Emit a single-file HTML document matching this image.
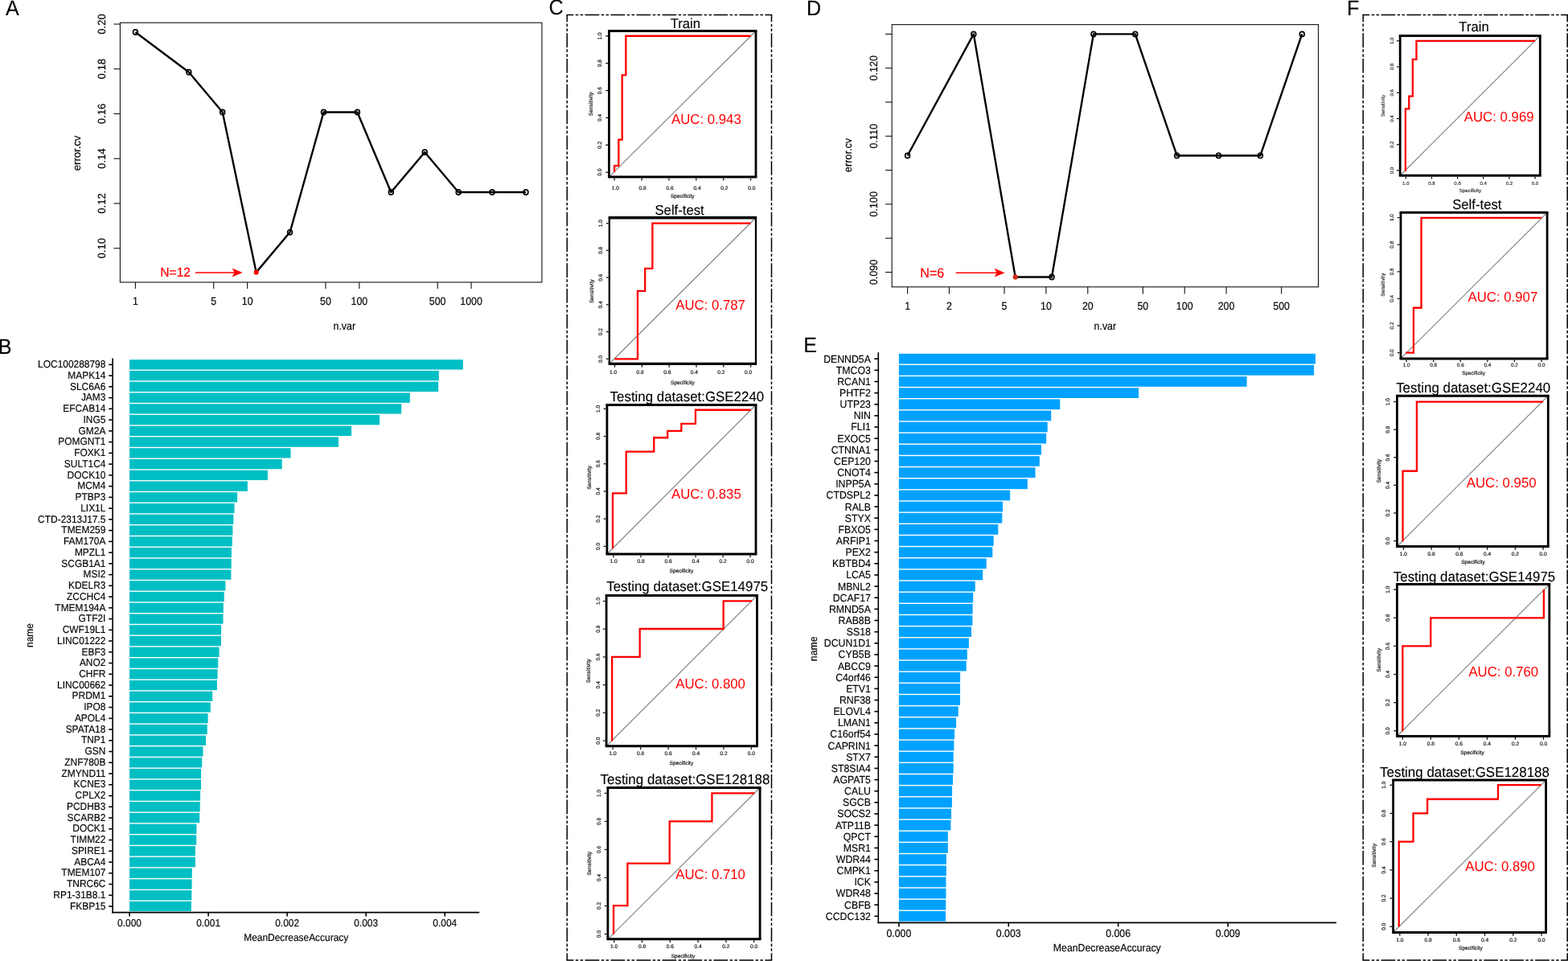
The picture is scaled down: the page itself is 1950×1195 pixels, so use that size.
<!DOCTYPE html>
<html lang="en">
<head>
<meta charset="utf-8">
<title>Figure</title>
<style>
html,body{margin:0;padding:0;background:#fff;}
body{width:1950px;height:1195px;overflow:hidden;}
svg{display:block;}
</style>
</head>
<body>
<svg width="1950" height="1195" viewBox="0 0 1950 1195" font-family='"Liberation Sans", Arial, Helvetica, sans-serif' text-rendering="geometricPrecision">
<rect x="0" y="0" width="1950" height="1195" fill="#fff"/>
<g id="panelA">
<rect x="149.40" y="28.25" width="524.50" height="322.75" fill="none" stroke="#111" stroke-width="1.1"/>
<line x1="141.40" y1="308.75" x2="149.40" y2="308.75" stroke="#111" stroke-width="1.1"/>
<text transform="translate(131.00 308.75) scale(1.0800 1.0560) rotate(-90)" font-size="12.4" text-anchor="middle" fill="#000" stroke="#000" stroke-width="0.15">0.10</text>
<line x1="141.40" y1="253.00" x2="149.40" y2="253.00" stroke="#111" stroke-width="1.1"/>
<text transform="translate(131.00 253.00) scale(1.0800 1.0560) rotate(-90)" font-size="12.4" text-anchor="middle" fill="#000" stroke="#000" stroke-width="0.15">0.12</text>
<line x1="141.40" y1="197.25" x2="149.40" y2="197.25" stroke="#111" stroke-width="1.1"/>
<text transform="translate(131.00 197.25) scale(1.0800 1.0560) rotate(-90)" font-size="12.4" text-anchor="middle" fill="#000" stroke="#000" stroke-width="0.15">0.14</text>
<line x1="141.40" y1="141.50" x2="149.40" y2="141.50" stroke="#111" stroke-width="1.1"/>
<text transform="translate(131.00 141.50) scale(1.0800 1.0560) rotate(-90)" font-size="12.4" text-anchor="middle" fill="#000" stroke="#000" stroke-width="0.15">0.16</text>
<line x1="141.40" y1="85.75" x2="149.40" y2="85.75" stroke="#111" stroke-width="1.1"/>
<text transform="translate(131.00 85.75) scale(1.0800 1.0560) rotate(-90)" font-size="12.4" text-anchor="middle" fill="#000" stroke="#000" stroke-width="0.15">0.18</text>
<line x1="141.40" y1="30.00" x2="149.40" y2="30.00" stroke="#111" stroke-width="1.1"/>
<text transform="translate(131.00 30.00) scale(1.0800 1.0560) rotate(-90)" font-size="12.4" text-anchor="middle" fill="#000" stroke="#000" stroke-width="0.15">0.20</text>
<line x1="168.40" y1="351.00" x2="168.40" y2="359.10" stroke="#111" stroke-width="1.1"/>
<text transform="translate(168.40 378.80) scale(1.0000 1.1000)" font-size="12.4" text-anchor="middle" fill="#000" stroke="#000" stroke-width="0.15">1</text>
<line x1="265.72" y1="351.00" x2="265.72" y2="359.10" stroke="#111" stroke-width="1.1"/>
<text transform="translate(265.72 378.80) scale(1.0000 1.1000)" font-size="12.4" text-anchor="middle" fill="#000" stroke="#000" stroke-width="0.15">5</text>
<line x1="307.63" y1="351.00" x2="307.63" y2="359.10" stroke="#111" stroke-width="1.1"/>
<text transform="translate(307.63 378.80) scale(1.0000 1.1000)" font-size="12.4" text-anchor="middle" fill="#000" stroke="#000" stroke-width="0.15">10</text>
<line x1="404.95" y1="351.00" x2="404.95" y2="359.10" stroke="#111" stroke-width="1.1"/>
<text transform="translate(404.95 378.80) scale(1.0000 1.1000)" font-size="12.4" text-anchor="middle" fill="#000" stroke="#000" stroke-width="0.15">50</text>
<line x1="446.86" y1="351.00" x2="446.86" y2="359.10" stroke="#111" stroke-width="1.1"/>
<text transform="translate(446.86 378.80) scale(1.0000 1.1000)" font-size="12.4" text-anchor="middle" fill="#000" stroke="#000" stroke-width="0.15">100</text>
<line x1="544.18" y1="351.00" x2="544.18" y2="359.10" stroke="#111" stroke-width="1.1"/>
<text transform="translate(544.18 378.80) scale(1.0000 1.1000)" font-size="12.4" text-anchor="middle" fill="#000" stroke="#000" stroke-width="0.15">500</text>
<line x1="586.09" y1="351.00" x2="586.09" y2="359.10" stroke="#111" stroke-width="1.1"/>
<text transform="translate(586.09 378.80) scale(1.0000 1.1000)" font-size="12.4" text-anchor="middle" fill="#000" stroke="#000" stroke-width="0.15">1000</text>
<text transform="translate(428.30 410.30) scale(1.0000 1.1000)" font-size="12.4" text-anchor="middle" fill="#000" stroke="#000" stroke-width="0.15">n.var</text>
<text transform="translate(100.00 190.40) scale(1.0800 1.0560) rotate(-90)" font-size="12.4" text-anchor="middle" fill="#000" stroke="#000" stroke-width="0.15">error.cv</text>
<polyline fill="none" stroke="#000" stroke-width="2.4" stroke-linejoin="round" points="168.40,39.96 234.83,89.73 276.74,139.51 318.65,338.62 360.57,288.84 402.48,139.51 444.39,139.51 486.30,239.06 528.22,189.29 570.13,239.06 612.04,239.06 653.95,239.06"/>
<ellipse cx="168.40" cy="39.96" rx="2.9" ry="3.1" fill="none" stroke="#000" stroke-width="1.7"/>
<ellipse cx="234.83" cy="89.73" rx="2.9" ry="3.1" fill="none" stroke="#000" stroke-width="1.7"/>
<ellipse cx="276.74" cy="139.51" rx="2.9" ry="3.1" fill="none" stroke="#000" stroke-width="1.7"/>
<ellipse cx="318.65" cy="338.62" rx="3.0" ry="3.2" fill="#ff0000"/>
<ellipse cx="360.57" cy="288.84" rx="2.9" ry="3.1" fill="none" stroke="#000" stroke-width="1.7"/>
<ellipse cx="402.48" cy="139.51" rx="2.9" ry="3.1" fill="none" stroke="#000" stroke-width="1.7"/>
<ellipse cx="444.39" cy="139.51" rx="2.9" ry="3.1" fill="none" stroke="#000" stroke-width="1.7"/>
<ellipse cx="486.30" cy="239.06" rx="2.9" ry="3.1" fill="none" stroke="#000" stroke-width="1.7"/>
<ellipse cx="528.22" cy="189.29" rx="2.9" ry="3.1" fill="none" stroke="#000" stroke-width="1.7"/>
<ellipse cx="570.13" cy="239.06" rx="2.9" ry="3.1" fill="none" stroke="#000" stroke-width="1.7"/>
<ellipse cx="612.04" cy="239.06" rx="2.9" ry="3.1" fill="none" stroke="#000" stroke-width="1.7"/>
<ellipse cx="653.95" cy="239.06" rx="2.9" ry="3.1" fill="none" stroke="#000" stroke-width="1.7"/>
<text transform="translate(199.30 344.20) scale(1.0000 1.0300)" font-size="15.6" text-anchor="start" fill="#ff0000" stroke="#ff0000" stroke-width="0.2">N=12</text>
<line x1="243.00" y1="339.00" x2="295.60" y2="339.00" stroke="#ff0000" stroke-width="1.5"/>
<path d="M301.60 339.00 L288.70 333.60 L291.60 339.00 L288.70 344.40 Z" fill="#ff0000"/>
</g>
<g id="panelB">
<rect x="161.05" y="447.21" width="414.75" height="12.37" fill="#00bfc4"/>
<line x1="135.20" y1="453.40" x2="140.10" y2="453.40" stroke="#000" stroke-width="1.6"/>
<text transform="translate(131.40 457.08) scale(1.0000 1.0700)" font-size="11.95" text-anchor="end" fill="#000" stroke="#000" stroke-width="0.15">LOC100288798</text>
<rect x="161.05" y="460.96" width="384.75" height="12.37" fill="#00bfc4"/>
<line x1="135.20" y1="467.15" x2="140.10" y2="467.15" stroke="#000" stroke-width="1.6"/>
<text transform="translate(131.40 470.82) scale(1.0000 1.0700)" font-size="11.95" text-anchor="end" fill="#000" stroke="#000" stroke-width="0.15">MAPK14</text>
<rect x="161.05" y="474.71" width="384.05" height="12.37" fill="#00bfc4"/>
<line x1="135.20" y1="480.89" x2="140.10" y2="480.89" stroke="#000" stroke-width="1.6"/>
<text transform="translate(131.40 484.57) scale(1.0000 1.0700)" font-size="11.95" text-anchor="end" fill="#000" stroke="#000" stroke-width="0.15">SLC6A6</text>
<rect x="161.05" y="488.45" width="348.75" height="12.37" fill="#00bfc4"/>
<line x1="135.20" y1="494.64" x2="140.10" y2="494.64" stroke="#000" stroke-width="1.6"/>
<text transform="translate(131.40 498.32) scale(1.0000 1.0700)" font-size="11.95" text-anchor="end" fill="#000" stroke="#000" stroke-width="0.15">JAM3</text>
<rect x="161.05" y="502.20" width="338.15" height="12.37" fill="#00bfc4"/>
<line x1="135.20" y1="508.39" x2="140.10" y2="508.39" stroke="#000" stroke-width="1.6"/>
<text transform="translate(131.40 512.07) scale(1.0000 1.0700)" font-size="11.95" text-anchor="end" fill="#000" stroke="#000" stroke-width="0.15">EFCAB14</text>
<rect x="161.05" y="515.95" width="310.95" height="12.37" fill="#00bfc4"/>
<line x1="135.20" y1="522.13" x2="140.10" y2="522.13" stroke="#000" stroke-width="1.6"/>
<text transform="translate(131.40 525.81) scale(1.0000 1.0700)" font-size="11.95" text-anchor="end" fill="#000" stroke="#000" stroke-width="0.15">ING5</text>
<rect x="161.05" y="529.70" width="276.05" height="12.37" fill="#00bfc4"/>
<line x1="135.20" y1="535.88" x2="140.10" y2="535.88" stroke="#000" stroke-width="1.6"/>
<text transform="translate(131.40 539.56) scale(1.0000 1.0700)" font-size="11.95" text-anchor="end" fill="#000" stroke="#000" stroke-width="0.15">GM2A</text>
<rect x="161.05" y="543.44" width="259.85" height="12.37" fill="#00bfc4"/>
<line x1="135.20" y1="549.63" x2="140.10" y2="549.63" stroke="#000" stroke-width="1.6"/>
<text transform="translate(131.40 553.31) scale(1.0000 1.0700)" font-size="11.95" text-anchor="end" fill="#000" stroke="#000" stroke-width="0.15">POMGNT1</text>
<rect x="161.05" y="557.19" width="200.45" height="12.37" fill="#00bfc4"/>
<line x1="135.20" y1="563.38" x2="140.10" y2="563.38" stroke="#000" stroke-width="1.6"/>
<text transform="translate(131.40 567.05) scale(1.0000 1.0700)" font-size="11.95" text-anchor="end" fill="#000" stroke="#000" stroke-width="0.15">FOXK1</text>
<rect x="161.05" y="570.94" width="189.65" height="12.37" fill="#00bfc4"/>
<line x1="135.20" y1="577.12" x2="140.10" y2="577.12" stroke="#000" stroke-width="1.6"/>
<text transform="translate(131.40 580.80) scale(1.0000 1.0700)" font-size="11.95" text-anchor="end" fill="#000" stroke="#000" stroke-width="0.15">SULT1C4</text>
<rect x="161.05" y="584.68" width="171.85" height="12.37" fill="#00bfc4"/>
<line x1="135.20" y1="590.87" x2="140.10" y2="590.87" stroke="#000" stroke-width="1.6"/>
<text transform="translate(131.40 594.55) scale(1.0000 1.0700)" font-size="11.95" text-anchor="end" fill="#000" stroke="#000" stroke-width="0.15">DOCK10</text>
<rect x="161.05" y="598.43" width="146.85" height="12.37" fill="#00bfc4"/>
<line x1="135.20" y1="604.62" x2="140.10" y2="604.62" stroke="#000" stroke-width="1.6"/>
<text transform="translate(131.40 608.29) scale(1.0000 1.0700)" font-size="11.95" text-anchor="end" fill="#000" stroke="#000" stroke-width="0.15">MCM4</text>
<rect x="161.05" y="612.18" width="134.05" height="12.37" fill="#00bfc4"/>
<line x1="135.20" y1="618.36" x2="140.10" y2="618.36" stroke="#000" stroke-width="1.6"/>
<text transform="translate(131.40 622.04) scale(1.0000 1.0700)" font-size="11.95" text-anchor="end" fill="#000" stroke="#000" stroke-width="0.15">PTBP3</text>
<rect x="161.05" y="625.92" width="130.45" height="12.37" fill="#00bfc4"/>
<line x1="135.20" y1="632.11" x2="140.10" y2="632.11" stroke="#000" stroke-width="1.6"/>
<text transform="translate(131.40 635.79) scale(1.0000 1.0700)" font-size="11.95" text-anchor="end" fill="#000" stroke="#000" stroke-width="0.15">LIX1L</text>
<rect x="161.05" y="639.67" width="129.25" height="12.37" fill="#00bfc4"/>
<line x1="135.20" y1="645.86" x2="140.10" y2="645.86" stroke="#000" stroke-width="1.6"/>
<text transform="translate(131.40 649.53) scale(1.0000 1.0700)" font-size="11.95" text-anchor="end" fill="#000" stroke="#000" stroke-width="0.15">CTD-2313J17.5</text>
<rect x="161.05" y="653.42" width="128.35" height="12.37" fill="#00bfc4"/>
<line x1="135.20" y1="659.60" x2="140.10" y2="659.60" stroke="#000" stroke-width="1.6"/>
<text transform="translate(131.40 663.28) scale(1.0000 1.0700)" font-size="11.95" text-anchor="end" fill="#000" stroke="#000" stroke-width="0.15">TMEM259</text>
<rect x="161.05" y="667.16" width="127.75" height="12.37" fill="#00bfc4"/>
<line x1="135.20" y1="673.35" x2="140.10" y2="673.35" stroke="#000" stroke-width="1.6"/>
<text transform="translate(131.40 677.03) scale(1.0000 1.0700)" font-size="11.95" text-anchor="end" fill="#000" stroke="#000" stroke-width="0.15">FAM170A</text>
<rect x="161.05" y="680.91" width="126.85" height="12.37" fill="#00bfc4"/>
<line x1="135.20" y1="687.10" x2="140.10" y2="687.10" stroke="#000" stroke-width="1.6"/>
<text transform="translate(131.40 690.78) scale(1.0000 1.0700)" font-size="11.95" text-anchor="end" fill="#000" stroke="#000" stroke-width="0.15">MPZL1</text>
<rect x="161.05" y="694.66" width="126.65" height="12.37" fill="#00bfc4"/>
<line x1="135.20" y1="700.84" x2="140.10" y2="700.84" stroke="#000" stroke-width="1.6"/>
<text transform="translate(131.40 704.52) scale(1.0000 1.0700)" font-size="11.95" text-anchor="end" fill="#000" stroke="#000" stroke-width="0.15">SCGB1A1</text>
<rect x="161.05" y="708.41" width="126.35" height="12.37" fill="#00bfc4"/>
<line x1="135.20" y1="714.59" x2="140.10" y2="714.59" stroke="#000" stroke-width="1.6"/>
<text transform="translate(131.40 718.27) scale(1.0000 1.0700)" font-size="11.95" text-anchor="end" fill="#000" stroke="#000" stroke-width="0.15">MSI2</text>
<rect x="161.05" y="722.15" width="119.35" height="12.37" fill="#00bfc4"/>
<line x1="135.20" y1="728.34" x2="140.10" y2="728.34" stroke="#000" stroke-width="1.6"/>
<text transform="translate(131.40 732.02) scale(1.0000 1.0700)" font-size="11.95" text-anchor="end" fill="#000" stroke="#000" stroke-width="0.15">KDELR3</text>
<rect x="161.05" y="735.90" width="117.65" height="12.37" fill="#00bfc4"/>
<line x1="135.20" y1="742.09" x2="140.10" y2="742.09" stroke="#000" stroke-width="1.6"/>
<text transform="translate(131.40 745.76) scale(1.0000 1.0700)" font-size="11.95" text-anchor="end" fill="#000" stroke="#000" stroke-width="0.15">ZCCHC4</text>
<rect x="161.05" y="749.65" width="116.75" height="12.37" fill="#00bfc4"/>
<line x1="135.20" y1="755.83" x2="140.10" y2="755.83" stroke="#000" stroke-width="1.6"/>
<text transform="translate(131.40 759.51) scale(1.0000 1.0700)" font-size="11.95" text-anchor="end" fill="#000" stroke="#000" stroke-width="0.15">TMEM194A</text>
<rect x="161.05" y="763.39" width="116.45" height="12.37" fill="#00bfc4"/>
<line x1="135.20" y1="769.58" x2="140.10" y2="769.58" stroke="#000" stroke-width="1.6"/>
<text transform="translate(131.40 773.26) scale(1.0000 1.0700)" font-size="11.95" text-anchor="end" fill="#000" stroke="#000" stroke-width="0.15">GTF2I</text>
<rect x="161.05" y="777.14" width="114.05" height="12.37" fill="#00bfc4"/>
<line x1="135.20" y1="783.33" x2="140.10" y2="783.33" stroke="#000" stroke-width="1.6"/>
<text transform="translate(131.40 787.00) scale(1.0000 1.0700)" font-size="11.95" text-anchor="end" fill="#000" stroke="#000" stroke-width="0.15">CWF19L1</text>
<rect x="161.05" y="790.89" width="113.95" height="12.37" fill="#00bfc4"/>
<line x1="135.20" y1="797.07" x2="140.10" y2="797.07" stroke="#000" stroke-width="1.6"/>
<text transform="translate(131.40 800.75) scale(1.0000 1.0700)" font-size="11.95" text-anchor="end" fill="#000" stroke="#000" stroke-width="0.15">LINC01222</text>
<rect x="161.05" y="804.63" width="111.55" height="12.37" fill="#00bfc4"/>
<line x1="135.20" y1="810.82" x2="140.10" y2="810.82" stroke="#000" stroke-width="1.6"/>
<text transform="translate(131.40 814.50) scale(1.0000 1.0700)" font-size="11.95" text-anchor="end" fill="#000" stroke="#000" stroke-width="0.15">EBF3</text>
<rect x="161.05" y="818.38" width="110.15" height="12.37" fill="#00bfc4"/>
<line x1="135.20" y1="824.57" x2="140.10" y2="824.57" stroke="#000" stroke-width="1.6"/>
<text transform="translate(131.40 828.24) scale(1.0000 1.0700)" font-size="11.95" text-anchor="end" fill="#000" stroke="#000" stroke-width="0.15">ANO2</text>
<rect x="161.05" y="832.13" width="109.45" height="12.37" fill="#00bfc4"/>
<line x1="135.20" y1="838.31" x2="140.10" y2="838.31" stroke="#000" stroke-width="1.6"/>
<text transform="translate(131.40 841.99) scale(1.0000 1.0700)" font-size="11.95" text-anchor="end" fill="#000" stroke="#000" stroke-width="0.15">CHFR</text>
<rect x="161.05" y="845.88" width="108.85" height="12.37" fill="#00bfc4"/>
<line x1="135.20" y1="852.06" x2="140.10" y2="852.06" stroke="#000" stroke-width="1.6"/>
<text transform="translate(131.40 855.74) scale(1.0000 1.0700)" font-size="11.95" text-anchor="end" fill="#000" stroke="#000" stroke-width="0.15">LINC00662</text>
<rect x="161.05" y="859.62" width="103.15" height="12.37" fill="#00bfc4"/>
<line x1="135.20" y1="865.81" x2="140.10" y2="865.81" stroke="#000" stroke-width="1.6"/>
<text transform="translate(131.40 869.49) scale(1.0000 1.0700)" font-size="11.95" text-anchor="end" fill="#000" stroke="#000" stroke-width="0.15">PRDM1</text>
<rect x="161.05" y="873.37" width="100.75" height="12.37" fill="#00bfc4"/>
<line x1="135.20" y1="879.56" x2="140.10" y2="879.56" stroke="#000" stroke-width="1.6"/>
<text transform="translate(131.40 883.23) scale(1.0000 1.0700)" font-size="11.95" text-anchor="end" fill="#000" stroke="#000" stroke-width="0.15">IPO8</text>
<rect x="161.05" y="887.12" width="97.55" height="12.37" fill="#00bfc4"/>
<line x1="135.20" y1="893.30" x2="140.10" y2="893.30" stroke="#000" stroke-width="1.6"/>
<text transform="translate(131.40 896.98) scale(1.0000 1.0700)" font-size="11.95" text-anchor="end" fill="#000" stroke="#000" stroke-width="0.15">APOL4</text>
<rect x="161.05" y="900.86" width="96.65" height="12.37" fill="#00bfc4"/>
<line x1="135.20" y1="907.05" x2="140.10" y2="907.05" stroke="#000" stroke-width="1.6"/>
<text transform="translate(131.40 910.73) scale(1.0000 1.0700)" font-size="11.95" text-anchor="end" fill="#000" stroke="#000" stroke-width="0.15">SPATA18</text>
<rect x="161.05" y="914.61" width="95.05" height="12.37" fill="#00bfc4"/>
<line x1="135.20" y1="920.80" x2="140.10" y2="920.80" stroke="#000" stroke-width="1.6"/>
<text transform="translate(131.40 924.47) scale(1.0000 1.0700)" font-size="11.95" text-anchor="end" fill="#000" stroke="#000" stroke-width="0.15">TNP1</text>
<rect x="161.05" y="928.36" width="91.45" height="12.37" fill="#00bfc4"/>
<line x1="135.20" y1="934.54" x2="140.10" y2="934.54" stroke="#000" stroke-width="1.6"/>
<text transform="translate(131.40 938.22) scale(1.0000 1.0700)" font-size="11.95" text-anchor="end" fill="#000" stroke="#000" stroke-width="0.15">GSN</text>
<rect x="161.05" y="942.10" width="90.15" height="12.37" fill="#00bfc4"/>
<line x1="135.20" y1="948.29" x2="140.10" y2="948.29" stroke="#000" stroke-width="1.6"/>
<text transform="translate(131.40 951.97) scale(1.0000 1.0700)" font-size="11.95" text-anchor="end" fill="#000" stroke="#000" stroke-width="0.15">ZNF780B</text>
<rect x="161.05" y="955.85" width="89.05" height="12.37" fill="#00bfc4"/>
<line x1="135.20" y1="962.04" x2="140.10" y2="962.04" stroke="#000" stroke-width="1.6"/>
<text transform="translate(131.40 965.71) scale(1.0000 1.0700)" font-size="11.95" text-anchor="end" fill="#000" stroke="#000" stroke-width="0.15">ZMYND11</text>
<rect x="161.05" y="969.60" width="88.95" height="12.37" fill="#00bfc4"/>
<line x1="135.20" y1="975.78" x2="140.10" y2="975.78" stroke="#000" stroke-width="1.6"/>
<text transform="translate(131.40 979.46) scale(1.0000 1.0700)" font-size="11.95" text-anchor="end" fill="#000" stroke="#000" stroke-width="0.15">KCNE3</text>
<rect x="161.05" y="983.34" width="88.05" height="12.37" fill="#00bfc4"/>
<line x1="135.20" y1="989.53" x2="140.10" y2="989.53" stroke="#000" stroke-width="1.6"/>
<text transform="translate(131.40 993.21) scale(1.0000 1.0700)" font-size="11.95" text-anchor="end" fill="#000" stroke="#000" stroke-width="0.15">CPLX2</text>
<rect x="161.05" y="997.09" width="87.65" height="12.37" fill="#00bfc4"/>
<line x1="135.20" y1="1003.28" x2="140.10" y2="1003.28" stroke="#000" stroke-width="1.6"/>
<text transform="translate(131.40 1006.96) scale(1.0000 1.0700)" font-size="11.95" text-anchor="end" fill="#000" stroke="#000" stroke-width="0.15">PCDHB3</text>
<rect x="161.05" y="1010.84" width="87.15" height="12.37" fill="#00bfc4"/>
<line x1="135.20" y1="1017.02" x2="140.10" y2="1017.02" stroke="#000" stroke-width="1.6"/>
<text transform="translate(131.40 1020.70) scale(1.0000 1.0700)" font-size="11.95" text-anchor="end" fill="#000" stroke="#000" stroke-width="0.15">SCARB2</text>
<rect x="161.05" y="1024.59" width="83.35" height="12.37" fill="#00bfc4"/>
<line x1="135.20" y1="1030.77" x2="140.10" y2="1030.77" stroke="#000" stroke-width="1.6"/>
<text transform="translate(131.40 1034.45) scale(1.0000 1.0700)" font-size="11.95" text-anchor="end" fill="#000" stroke="#000" stroke-width="0.15">DOCK1</text>
<rect x="161.05" y="1038.33" width="83.15" height="12.37" fill="#00bfc4"/>
<line x1="135.20" y1="1044.52" x2="140.10" y2="1044.52" stroke="#000" stroke-width="1.6"/>
<text transform="translate(131.40 1048.20) scale(1.0000 1.0700)" font-size="11.95" text-anchor="end" fill="#000" stroke="#000" stroke-width="0.15">TIMM22</text>
<rect x="161.05" y="1052.08" width="81.85" height="12.37" fill="#00bfc4"/>
<line x1="135.20" y1="1058.27" x2="140.10" y2="1058.27" stroke="#000" stroke-width="1.6"/>
<text transform="translate(131.40 1061.94) scale(1.0000 1.0700)" font-size="11.95" text-anchor="end" fill="#000" stroke="#000" stroke-width="0.15">SPIRE1</text>
<rect x="161.05" y="1065.83" width="81.85" height="12.37" fill="#00bfc4"/>
<line x1="135.20" y1="1072.01" x2="140.10" y2="1072.01" stroke="#000" stroke-width="1.6"/>
<text transform="translate(131.40 1075.69) scale(1.0000 1.0700)" font-size="11.95" text-anchor="end" fill="#000" stroke="#000" stroke-width="0.15">ABCA4</text>
<rect x="161.05" y="1079.57" width="77.75" height="12.37" fill="#00bfc4"/>
<line x1="135.20" y1="1085.76" x2="140.10" y2="1085.76" stroke="#000" stroke-width="1.6"/>
<text transform="translate(131.40 1089.44) scale(1.0000 1.0700)" font-size="11.95" text-anchor="end" fill="#000" stroke="#000" stroke-width="0.15">TMEM107</text>
<rect x="161.05" y="1093.32" width="77.55" height="12.37" fill="#00bfc4"/>
<line x1="135.20" y1="1099.51" x2="140.10" y2="1099.51" stroke="#000" stroke-width="1.6"/>
<text transform="translate(131.40 1103.18) scale(1.0000 1.0700)" font-size="11.95" text-anchor="end" fill="#000" stroke="#000" stroke-width="0.15">TNRC6C</text>
<rect x="161.05" y="1107.07" width="77.25" height="12.37" fill="#00bfc4"/>
<line x1="135.20" y1="1113.25" x2="140.10" y2="1113.25" stroke="#000" stroke-width="1.6"/>
<text transform="translate(131.40 1116.93) scale(1.0000 1.0700)" font-size="11.95" text-anchor="end" fill="#000" stroke="#000" stroke-width="0.15">RP1-31B8.1</text>
<rect x="161.05" y="1120.81" width="76.85" height="12.37" fill="#00bfc4"/>
<line x1="135.20" y1="1127.00" x2="140.10" y2="1127.00" stroke="#000" stroke-width="1.6"/>
<text transform="translate(131.40 1130.68) scale(1.0000 1.0700)" font-size="11.95" text-anchor="end" fill="#000" stroke="#000" stroke-width="0.15">FKBP15</text>
<line x1="140.10" y1="445.60" x2="140.10" y2="1135.40" stroke="#000" stroke-width="1.6"/>
<line x1="139.30" y1="1134.60" x2="596.20" y2="1134.60" stroke="#000" stroke-width="1.6"/>
<line x1="161.05" y1="1134.60" x2="161.05" y2="1139.50" stroke="#000" stroke-width="1.6"/>
<text transform="translate(161.05 1151.90) scale(1.0000 1.0700)" font-size="11.95" text-anchor="middle" fill="#000" stroke="#000" stroke-width="0.15">0.000</text>
<line x1="259.10" y1="1134.60" x2="259.10" y2="1139.50" stroke="#000" stroke-width="1.6"/>
<text transform="translate(259.10 1151.90) scale(1.0000 1.0700)" font-size="11.95" text-anchor="middle" fill="#000" stroke="#000" stroke-width="0.15">0.001</text>
<line x1="357.15" y1="1134.60" x2="357.15" y2="1139.50" stroke="#000" stroke-width="1.6"/>
<text transform="translate(357.15 1151.90) scale(1.0000 1.0700)" font-size="11.95" text-anchor="middle" fill="#000" stroke="#000" stroke-width="0.15">0.002</text>
<line x1="455.20" y1="1134.60" x2="455.20" y2="1139.50" stroke="#000" stroke-width="1.6"/>
<text transform="translate(455.20 1151.90) scale(1.0000 1.0700)" font-size="11.95" text-anchor="middle" fill="#000" stroke="#000" stroke-width="0.15">0.003</text>
<line x1="553.25" y1="1134.60" x2="553.25" y2="1139.50" stroke="#000" stroke-width="1.6"/>
<text transform="translate(553.25 1151.90) scale(1.0000 1.0700)" font-size="11.95" text-anchor="middle" fill="#000" stroke="#000" stroke-width="0.15">0.004</text>
<text transform="translate(368.20 1169.90) scale(1.0000 1.0700)" font-size="11.95" text-anchor="middle" fill="#000" stroke="#000" stroke-width="0.15">MeanDecreaseAccuracy</text>
<text transform="translate(41.00 790.00) scale(1.0700 1.0000) rotate(-90)" font-size="11.95" text-anchor="middle" fill="#000" stroke="#000" stroke-width="0.15">name</text>
</g>
<g id="panelC">
<line x1="704.45" y1="18.40" x2="960.25" y2="18.40" stroke="#000" stroke-width="1.5" stroke-dasharray="17.753 2.421 3.530 2.320 3.530 2.421" stroke-dashoffset="8.876"/>
<line x1="959.50" y1="18.40" x2="959.50" y2="1194.00" stroke="#000" stroke-width="1.5" stroke-dasharray="17.641 2.406 3.508 2.305 3.508 2.406" stroke-dashoffset="8.820"/>
<line x1="960.25" y1="1194.00" x2="704.45" y2="1194.00" stroke="#000" stroke-width="1.5" stroke-dasharray="17.753 2.421 3.530 2.320 3.530 2.421" stroke-dashoffset="8.876"/>
<line x1="705.20" y1="1194.00" x2="705.20" y2="18.40" stroke="#000" stroke-width="1.5" stroke-dasharray="17.641 2.406 3.508 2.305 3.508 2.406" stroke-dashoffset="8.820"/>
<line x1="757.40" y1="220.10" x2="940.00" y2="38.50" stroke="#808080" stroke-width="1.15"/>
<polyline fill="none" stroke="#ff0000" stroke-width="2.3" stroke-linejoin="miter" points="764.10,214.23 764.10,206.07 769.33,206.07 769.33,173.64 773.72,173.64 773.72,93.31 778.33,93.31 778.33,44.77 933.56,44.77"/>
<line x1="756.00" y1="38.50" x2="941.40" y2="38.50" stroke="#000" stroke-width="3.0"/>
<line x1="756.00" y1="220.10" x2="941.40" y2="220.10" stroke="#000" stroke-width="3.0"/>
<line x1="757.40" y1="38.50" x2="757.40" y2="220.10" stroke="#000" stroke-width="2.8"/>
<line x1="940.00" y1="38.50" x2="940.00" y2="220.10" stroke="#000" stroke-width="2.8"/>
<line x1="933.60" y1="221.60" x2="933.60" y2="224.40" stroke="#111" stroke-width="1.3"/>
<line x1="753.20" y1="214.20" x2="756.00" y2="214.20" stroke="#111" stroke-width="1.3"/>
<text transform="translate(934.80 235.50)" font-size="6.6" text-anchor="middle" fill="#111" stroke="#111" stroke-width="0.2">0.0</text>
<text transform="translate(748.00 214.20) rotate(-90)" font-size="6.6" text-anchor="middle" fill="#111" stroke="#111" stroke-width="0.2">0.0</text>
<line x1="899.70" y1="221.60" x2="899.70" y2="224.40" stroke="#111" stroke-width="1.3"/>
<line x1="753.20" y1="180.32" x2="756.00" y2="180.32" stroke="#111" stroke-width="1.3"/>
<text transform="translate(900.90 235.50)" font-size="6.6" text-anchor="middle" fill="#111" stroke="#111" stroke-width="0.2">0.2</text>
<text transform="translate(748.00 180.32) rotate(-90)" font-size="6.6" text-anchor="middle" fill="#111" stroke="#111" stroke-width="0.2">0.2</text>
<line x1="865.80" y1="221.60" x2="865.80" y2="224.40" stroke="#111" stroke-width="1.3"/>
<line x1="753.20" y1="146.44" x2="756.00" y2="146.44" stroke="#111" stroke-width="1.3"/>
<text transform="translate(867.00 235.50)" font-size="6.6" text-anchor="middle" fill="#111" stroke="#111" stroke-width="0.2">0.4</text>
<text transform="translate(748.00 146.44) rotate(-90)" font-size="6.6" text-anchor="middle" fill="#111" stroke="#111" stroke-width="0.2">0.4</text>
<line x1="831.90" y1="221.60" x2="831.90" y2="224.40" stroke="#111" stroke-width="1.3"/>
<line x1="753.20" y1="112.56" x2="756.00" y2="112.56" stroke="#111" stroke-width="1.3"/>
<text transform="translate(833.10 235.50)" font-size="6.6" text-anchor="middle" fill="#111" stroke="#111" stroke-width="0.2">0.6</text>
<text transform="translate(748.00 112.56) rotate(-90)" font-size="6.6" text-anchor="middle" fill="#111" stroke="#111" stroke-width="0.2">0.6</text>
<line x1="798.00" y1="221.60" x2="798.00" y2="224.40" stroke="#111" stroke-width="1.3"/>
<line x1="753.20" y1="78.68" x2="756.00" y2="78.68" stroke="#111" stroke-width="1.3"/>
<text transform="translate(799.20 235.50)" font-size="6.6" text-anchor="middle" fill="#111" stroke="#111" stroke-width="0.2">0.8</text>
<text transform="translate(748.00 78.68) rotate(-90)" font-size="6.6" text-anchor="middle" fill="#111" stroke="#111" stroke-width="0.2">0.8</text>
<line x1="764.10" y1="221.60" x2="764.10" y2="224.40" stroke="#111" stroke-width="1.3"/>
<line x1="753.20" y1="44.80" x2="756.00" y2="44.80" stroke="#111" stroke-width="1.3"/>
<text transform="translate(765.30 235.50)" font-size="6.6" text-anchor="middle" fill="#111" stroke="#111" stroke-width="0.2">1.0</text>
<text transform="translate(748.00 44.80) rotate(-90)" font-size="6.6" text-anchor="middle" fill="#111" stroke="#111" stroke-width="0.2">1.0</text>
<text transform="translate(848.80 245.80)" font-size="6.6" text-anchor="middle" fill="#111" stroke="#111" stroke-width="0.2">Specificity</text>
<text transform="translate(736.50 129.30) rotate(-90)" font-size="6.6" text-anchor="middle" fill="#111" stroke="#111" stroke-width="0.2">Sensitivity</text>
<text transform="translate(852.40 34.90) scale(1.0000 1.0300)" font-size="16.7" text-anchor="middle" fill="#000" stroke="#000" stroke-width="0.1">Train</text>
<text transform="translate(835.00 153.80) scale(1.0000 1.0300)" font-size="16.8" text-anchor="start" fill="#ff0000">AUC: 0.943</text>
<line x1="757.80" y1="452.30" x2="940.00" y2="270.75" stroke="#808080" stroke-width="1.15"/>
<polyline fill="none" stroke="#ff0000" stroke-width="2.3" stroke-linejoin="miter" points="764.52,446.28 792.97,446.28 792.97,361.97 802.18,361.97 802.18,333.93 811.38,333.93 811.38,277.66 933.56,277.66"/>
<line x1="756.65" y1="270.75" x2="941.15" y2="270.75" stroke="#000" stroke-width="3.3"/>
<line x1="756.65" y1="452.30" x2="941.15" y2="452.30" stroke="#000" stroke-width="3.3"/>
<line x1="757.80" y1="270.75" x2="757.80" y2="452.30" stroke="#000" stroke-width="2.3"/>
<line x1="940.00" y1="270.75" x2="940.00" y2="452.30" stroke="#000" stroke-width="2.3"/>
<line x1="933.60" y1="453.95" x2="933.60" y2="456.75" stroke="#111" stroke-width="1.3"/>
<line x1="753.85" y1="446.30" x2="756.65" y2="446.30" stroke="#111" stroke-width="1.3"/>
<text transform="translate(930.50 464.90)" font-size="6.6" text-anchor="middle" fill="#111" stroke="#111" stroke-width="0.2">0.0</text>
<text transform="translate(749.20 446.30) rotate(-90)" font-size="6.6" text-anchor="middle" fill="#111" stroke="#111" stroke-width="0.2">0.0</text>
<line x1="899.78" y1="453.95" x2="899.78" y2="456.75" stroke="#111" stroke-width="1.3"/>
<line x1="753.85" y1="412.58" x2="756.65" y2="412.58" stroke="#111" stroke-width="1.3"/>
<text transform="translate(896.92 464.90)" font-size="6.6" text-anchor="middle" fill="#111" stroke="#111" stroke-width="0.2">0.2</text>
<text transform="translate(749.20 412.58) rotate(-90)" font-size="6.6" text-anchor="middle" fill="#111" stroke="#111" stroke-width="0.2">0.2</text>
<line x1="865.96" y1="453.95" x2="865.96" y2="456.75" stroke="#111" stroke-width="1.3"/>
<line x1="753.85" y1="378.86" x2="756.65" y2="378.86" stroke="#111" stroke-width="1.3"/>
<text transform="translate(863.34 464.90)" font-size="6.6" text-anchor="middle" fill="#111" stroke="#111" stroke-width="0.2">0.4</text>
<text transform="translate(749.20 378.86) rotate(-90)" font-size="6.6" text-anchor="middle" fill="#111" stroke="#111" stroke-width="0.2">0.4</text>
<line x1="832.14" y1="453.95" x2="832.14" y2="456.75" stroke="#111" stroke-width="1.3"/>
<line x1="753.85" y1="345.14" x2="756.65" y2="345.14" stroke="#111" stroke-width="1.3"/>
<text transform="translate(829.76 464.90)" font-size="6.6" text-anchor="middle" fill="#111" stroke="#111" stroke-width="0.2">0.6</text>
<text transform="translate(749.20 345.14) rotate(-90)" font-size="6.6" text-anchor="middle" fill="#111" stroke="#111" stroke-width="0.2">0.6</text>
<line x1="798.32" y1="453.95" x2="798.32" y2="456.75" stroke="#111" stroke-width="1.3"/>
<line x1="753.85" y1="311.42" x2="756.65" y2="311.42" stroke="#111" stroke-width="1.3"/>
<text transform="translate(796.18 464.90)" font-size="6.6" text-anchor="middle" fill="#111" stroke="#111" stroke-width="0.2">0.8</text>
<text transform="translate(749.20 311.42) rotate(-90)" font-size="6.6" text-anchor="middle" fill="#111" stroke="#111" stroke-width="0.2">0.8</text>
<line x1="764.50" y1="453.95" x2="764.50" y2="456.75" stroke="#111" stroke-width="1.3"/>
<line x1="753.85" y1="277.70" x2="756.65" y2="277.70" stroke="#111" stroke-width="1.3"/>
<text transform="translate(762.60 464.90)" font-size="6.6" text-anchor="middle" fill="#111" stroke="#111" stroke-width="0.2">1.0</text>
<text transform="translate(749.20 277.70) rotate(-90)" font-size="6.6" text-anchor="middle" fill="#111" stroke="#111" stroke-width="0.2">1.0</text>
<text transform="translate(848.90 477.80)" font-size="6.6" text-anchor="middle" fill="#111" stroke="#111" stroke-width="0.2">Specificity</text>
<text transform="translate(737.60 362.20) rotate(-90)" font-size="6.6" text-anchor="middle" fill="#111" stroke="#111" stroke-width="0.2">Sensitivity</text>
<text transform="translate(845.10 266.60) scale(1.0000 1.0300)" font-size="16.7" text-anchor="middle" fill="#000" stroke="#000" stroke-width="0.1">Self-test</text>
<text transform="translate(840.20 384.80) scale(1.0000 1.0300)" font-size="16.8" text-anchor="start" fill="#ff0000">AUC: 0.787</text>
<line x1="754.90" y1="689.00" x2="940.00" y2="503.50" stroke="#808080" stroke-width="1.15"/>
<polyline fill="none" stroke="#ff0000" stroke-width="2.3" stroke-linejoin="miter" points="762.01,682.34 762.01,613.31 778.74,613.31 778.74,561.63 813.26,561.63 813.26,544.27 830.21,544.27 830.21,535.90 847.36,535.90 847.36,526.90 864.94,526.90 864.94,509.75 933.77,509.75"/>
<line x1="753.50" y1="503.50" x2="941.40" y2="503.50" stroke="#000" stroke-width="3.0"/>
<line x1="753.50" y1="689.00" x2="941.40" y2="689.00" stroke="#000" stroke-width="3.0"/>
<line x1="754.90" y1="503.50" x2="754.90" y2="689.00" stroke="#000" stroke-width="2.8"/>
<line x1="940.00" y1="503.50" x2="940.00" y2="689.00" stroke="#000" stroke-width="2.8"/>
<line x1="933.10" y1="690.50" x2="933.10" y2="693.30" stroke="#111" stroke-width="1.3"/>
<line x1="750.70" y1="679.40" x2="753.50" y2="679.40" stroke="#111" stroke-width="1.3"/>
<text transform="translate(933.10 700.10)" font-size="6.6" text-anchor="middle" fill="#111" stroke="#111" stroke-width="0.2">0.0</text>
<text transform="translate(745.90 679.40) rotate(-90)" font-size="6.6" text-anchor="middle" fill="#111" stroke="#111" stroke-width="0.2">0.0</text>
<line x1="899.08" y1="690.50" x2="899.08" y2="693.30" stroke="#111" stroke-width="1.3"/>
<line x1="750.70" y1="645.18" x2="753.50" y2="645.18" stroke="#111" stroke-width="1.3"/>
<text transform="translate(899.08 700.10)" font-size="6.6" text-anchor="middle" fill="#111" stroke="#111" stroke-width="0.2">0.2</text>
<text transform="translate(745.90 645.18) rotate(-90)" font-size="6.6" text-anchor="middle" fill="#111" stroke="#111" stroke-width="0.2">0.2</text>
<line x1="865.06" y1="690.50" x2="865.06" y2="693.30" stroke="#111" stroke-width="1.3"/>
<line x1="750.70" y1="610.96" x2="753.50" y2="610.96" stroke="#111" stroke-width="1.3"/>
<text transform="translate(865.06 700.10)" font-size="6.6" text-anchor="middle" fill="#111" stroke="#111" stroke-width="0.2">0.4</text>
<text transform="translate(745.90 610.96) rotate(-90)" font-size="6.6" text-anchor="middle" fill="#111" stroke="#111" stroke-width="0.2">0.4</text>
<line x1="831.04" y1="690.50" x2="831.04" y2="693.30" stroke="#111" stroke-width="1.3"/>
<line x1="750.70" y1="576.74" x2="753.50" y2="576.74" stroke="#111" stroke-width="1.3"/>
<text transform="translate(831.04 700.10)" font-size="6.6" text-anchor="middle" fill="#111" stroke="#111" stroke-width="0.2">0.6</text>
<text transform="translate(745.90 576.74) rotate(-90)" font-size="6.6" text-anchor="middle" fill="#111" stroke="#111" stroke-width="0.2">0.6</text>
<line x1="797.02" y1="690.50" x2="797.02" y2="693.30" stroke="#111" stroke-width="1.3"/>
<line x1="750.70" y1="542.52" x2="753.50" y2="542.52" stroke="#111" stroke-width="1.3"/>
<text transform="translate(797.02 700.10)" font-size="6.6" text-anchor="middle" fill="#111" stroke="#111" stroke-width="0.2">0.8</text>
<text transform="translate(745.90 542.52) rotate(-90)" font-size="6.6" text-anchor="middle" fill="#111" stroke="#111" stroke-width="0.2">0.8</text>
<line x1="763.00" y1="690.50" x2="763.00" y2="693.30" stroke="#111" stroke-width="1.3"/>
<line x1="750.70" y1="508.30" x2="753.50" y2="508.30" stroke="#111" stroke-width="1.3"/>
<text transform="translate(763.00 700.10)" font-size="6.6" text-anchor="middle" fill="#111" stroke="#111" stroke-width="0.2">1.0</text>
<text transform="translate(745.90 508.30) rotate(-90)" font-size="6.6" text-anchor="middle" fill="#111" stroke="#111" stroke-width="0.2">1.0</text>
<text transform="translate(847.40 711.60)" font-size="6.6" text-anchor="middle" fill="#111" stroke="#111" stroke-width="0.2">Specificity</text>
<text transform="translate(734.80 594.00) rotate(-90)" font-size="6.6" text-anchor="middle" fill="#111" stroke="#111" stroke-width="0.2">Sensitivity</text>
<text transform="translate(854.40 498.80) scale(1.0000 1.0300)" font-size="16.9" text-anchor="middle" fill="#000" stroke="#000" stroke-width="0.1">Testing dataset:GSE2240</text>
<text transform="translate(835.00 620.20) scale(1.0000 1.0300)" font-size="16.8" text-anchor="start" fill="#ff0000">AUC: 0.835</text>
<line x1="754.10" y1="927.80" x2="941.50" y2="740.60" stroke="#808080" stroke-width="1.15"/>
<polyline fill="none" stroke="#ff0000" stroke-width="2.3" stroke-linejoin="miter" points="761.17,921.53 761.17,816.92 795.69,816.92 795.69,781.99 899.67,781.99 899.67,747.47 935.23,747.47"/>
<line x1="752.70" y1="740.60" x2="942.90" y2="740.60" stroke="#000" stroke-width="3.0"/>
<line x1="752.70" y1="927.80" x2="942.90" y2="927.80" stroke="#000" stroke-width="3.0"/>
<line x1="754.10" y1="740.60" x2="754.10" y2="927.80" stroke="#000" stroke-width="2.8"/>
<line x1="941.50" y1="740.60" x2="941.50" y2="927.80" stroke="#000" stroke-width="2.8"/>
<line x1="934.40" y1="929.30" x2="934.40" y2="932.10" stroke="#111" stroke-width="1.3"/>
<line x1="749.90" y1="921.10" x2="752.70" y2="921.10" stroke="#111" stroke-width="1.3"/>
<text transform="translate(934.40 938.90)" font-size="6.6" text-anchor="middle" fill="#111" stroke="#111" stroke-width="0.2">0.0</text>
<text transform="translate(745.50 921.10) rotate(-90)" font-size="6.6" text-anchor="middle" fill="#111" stroke="#111" stroke-width="0.2">0.0</text>
<line x1="899.96" y1="929.30" x2="899.96" y2="932.10" stroke="#111" stroke-width="1.3"/>
<line x1="749.90" y1="886.38" x2="752.70" y2="886.38" stroke="#111" stroke-width="1.3"/>
<text transform="translate(899.96 938.90)" font-size="6.6" text-anchor="middle" fill="#111" stroke="#111" stroke-width="0.2">0.2</text>
<text transform="translate(745.50 886.38) rotate(-90)" font-size="6.6" text-anchor="middle" fill="#111" stroke="#111" stroke-width="0.2">0.2</text>
<line x1="865.52" y1="929.30" x2="865.52" y2="932.10" stroke="#111" stroke-width="1.3"/>
<line x1="749.90" y1="851.66" x2="752.70" y2="851.66" stroke="#111" stroke-width="1.3"/>
<text transform="translate(865.52 938.90)" font-size="6.6" text-anchor="middle" fill="#111" stroke="#111" stroke-width="0.2">0.4</text>
<text transform="translate(745.50 851.66) rotate(-90)" font-size="6.6" text-anchor="middle" fill="#111" stroke="#111" stroke-width="0.2">0.4</text>
<line x1="831.08" y1="929.30" x2="831.08" y2="932.10" stroke="#111" stroke-width="1.3"/>
<line x1="749.90" y1="816.94" x2="752.70" y2="816.94" stroke="#111" stroke-width="1.3"/>
<text transform="translate(831.08 938.90)" font-size="6.6" text-anchor="middle" fill="#111" stroke="#111" stroke-width="0.2">0.6</text>
<text transform="translate(745.50 816.94) rotate(-90)" font-size="6.6" text-anchor="middle" fill="#111" stroke="#111" stroke-width="0.2">0.6</text>
<line x1="796.64" y1="929.30" x2="796.64" y2="932.10" stroke="#111" stroke-width="1.3"/>
<line x1="749.90" y1="782.22" x2="752.70" y2="782.22" stroke="#111" stroke-width="1.3"/>
<text transform="translate(796.64 938.90)" font-size="6.6" text-anchor="middle" fill="#111" stroke="#111" stroke-width="0.2">0.8</text>
<text transform="translate(745.50 782.22) rotate(-90)" font-size="6.6" text-anchor="middle" fill="#111" stroke="#111" stroke-width="0.2">0.8</text>
<line x1="762.20" y1="929.30" x2="762.20" y2="932.10" stroke="#111" stroke-width="1.3"/>
<line x1="749.90" y1="747.50" x2="752.70" y2="747.50" stroke="#111" stroke-width="1.3"/>
<text transform="translate(762.20 938.90)" font-size="6.6" text-anchor="middle" fill="#111" stroke="#111" stroke-width="0.2">1.0</text>
<text transform="translate(745.50 747.50) rotate(-90)" font-size="6.6" text-anchor="middle" fill="#111" stroke="#111" stroke-width="0.2">1.0</text>
<text transform="translate(847.40 951.10)" font-size="6.6" text-anchor="middle" fill="#111" stroke="#111" stroke-width="0.2">Specificity</text>
<text transform="translate(734.00 834.30) rotate(-90)" font-size="6.6" text-anchor="middle" fill="#111" stroke="#111" stroke-width="0.2">Sensitivity</text>
<text transform="translate(854.70 734.90) scale(1.0000 1.0300)" font-size="16.9" text-anchor="middle" fill="#000" stroke="#000" stroke-width="0.1">Testing dataset:GSE14975</text>
<text transform="translate(840.20 856.00) scale(1.0000 1.0300)" font-size="16.8" text-anchor="start" fill="#ff0000">AUC: 0.800</text>
<line x1="755.90" y1="1167.80" x2="945.10" y2="979.50" stroke="#808080" stroke-width="1.15"/>
<polyline fill="none" stroke="#ff0000" stroke-width="2.3" stroke-linejoin="miter" points="763.05,1161.95 763.05,1126.17 780.42,1126.17 780.42,1073.66 832.72,1073.66 832.72,1021.36 885.44,1021.36 885.44,986.42 938.37,986.42"/>
<line x1="754.50" y1="979.50" x2="946.50" y2="979.50" stroke="#000" stroke-width="3.0"/>
<line x1="754.50" y1="1167.80" x2="946.50" y2="1167.80" stroke="#000" stroke-width="3.0"/>
<line x1="755.90" y1="979.50" x2="755.90" y2="1167.80" stroke="#000" stroke-width="2.8"/>
<line x1="945.10" y1="979.50" x2="945.10" y2="1167.80" stroke="#000" stroke-width="2.8"/>
<line x1="937.70" y1="1169.30" x2="937.70" y2="1172.10" stroke="#111" stroke-width="1.3"/>
<line x1="751.70" y1="1161.50" x2="754.50" y2="1161.50" stroke="#111" stroke-width="1.3"/>
<text transform="translate(937.70 1179.30)" font-size="6.6" text-anchor="middle" fill="#111" stroke="#111" stroke-width="0.2">0.0</text>
<text transform="translate(746.50 1161.50) rotate(-90)" font-size="6.6" text-anchor="middle" fill="#111" stroke="#111" stroke-width="0.2">0.0</text>
<line x1="902.90" y1="1169.30" x2="902.90" y2="1172.10" stroke="#111" stroke-width="1.3"/>
<line x1="751.70" y1="1126.48" x2="754.50" y2="1126.48" stroke="#111" stroke-width="1.3"/>
<text transform="translate(902.90 1179.30)" font-size="6.6" text-anchor="middle" fill="#111" stroke="#111" stroke-width="0.2">0.2</text>
<text transform="translate(746.50 1126.48) rotate(-90)" font-size="6.6" text-anchor="middle" fill="#111" stroke="#111" stroke-width="0.2">0.2</text>
<line x1="868.10" y1="1169.30" x2="868.10" y2="1172.10" stroke="#111" stroke-width="1.3"/>
<line x1="751.70" y1="1091.46" x2="754.50" y2="1091.46" stroke="#111" stroke-width="1.3"/>
<text transform="translate(868.10 1179.30)" font-size="6.6" text-anchor="middle" fill="#111" stroke="#111" stroke-width="0.2">0.4</text>
<text transform="translate(746.50 1091.46) rotate(-90)" font-size="6.6" text-anchor="middle" fill="#111" stroke="#111" stroke-width="0.2">0.4</text>
<line x1="833.30" y1="1169.30" x2="833.30" y2="1172.10" stroke="#111" stroke-width="1.3"/>
<line x1="751.70" y1="1056.44" x2="754.50" y2="1056.44" stroke="#111" stroke-width="1.3"/>
<text transform="translate(833.30 1179.30)" font-size="6.6" text-anchor="middle" fill="#111" stroke="#111" stroke-width="0.2">0.6</text>
<text transform="translate(746.50 1056.44) rotate(-90)" font-size="6.6" text-anchor="middle" fill="#111" stroke="#111" stroke-width="0.2">0.6</text>
<line x1="798.50" y1="1169.30" x2="798.50" y2="1172.10" stroke="#111" stroke-width="1.3"/>
<line x1="751.70" y1="1021.42" x2="754.50" y2="1021.42" stroke="#111" stroke-width="1.3"/>
<text transform="translate(798.50 1179.30)" font-size="6.6" text-anchor="middle" fill="#111" stroke="#111" stroke-width="0.2">0.8</text>
<text transform="translate(746.50 1021.42) rotate(-90)" font-size="6.6" text-anchor="middle" fill="#111" stroke="#111" stroke-width="0.2">0.8</text>
<line x1="763.70" y1="1169.30" x2="763.70" y2="1172.10" stroke="#111" stroke-width="1.3"/>
<line x1="751.70" y1="986.40" x2="754.50" y2="986.40" stroke="#111" stroke-width="1.3"/>
<text transform="translate(763.70 1179.30)" font-size="6.6" text-anchor="middle" fill="#111" stroke="#111" stroke-width="0.2">1.0</text>
<text transform="translate(746.50 986.40) rotate(-90)" font-size="6.6" text-anchor="middle" fill="#111" stroke="#111" stroke-width="0.2">1.0</text>
<text transform="translate(849.50 1190.80)" font-size="6.6" text-anchor="middle" fill="#111" stroke="#111" stroke-width="0.2">Specificity</text>
<text transform="translate(734.80 1073.70) rotate(-90)" font-size="6.6" text-anchor="middle" fill="#111" stroke="#111" stroke-width="0.2">Sensitivity</text>
<text transform="translate(852.00 974.50) scale(1.0000 1.0300)" font-size="16.95" text-anchor="middle" fill="#000" stroke="#000" stroke-width="0.1">Testing dataset:GSE128188</text>
<text transform="translate(840.20 1092.90) scale(1.0000 1.0300)" font-size="16.8" text-anchor="start" fill="#ff0000">AUC: 0.710</text>
</g>
<g id="panelD">
<rect x="1109.20" y="30.60" width="530.30" height="326.20" fill="none" stroke="#111" stroke-width="1.1"/>
<line x1="1101.20" y1="338.50" x2="1109.20" y2="338.50" stroke="#111" stroke-width="1.1"/>
<text transform="translate(1090.70 338.50) scale(1.0800 1.0240) rotate(-90)" font-size="12.4" text-anchor="middle" fill="#000" stroke="#000" stroke-width="0.15">0.090</text>
<line x1="1101.20" y1="296.20" x2="1109.20" y2="296.20" stroke="#111" stroke-width="1.1"/>
<line x1="1101.20" y1="253.90" x2="1109.20" y2="253.90" stroke="#111" stroke-width="1.1"/>
<text transform="translate(1090.70 253.90) scale(1.0800 1.0240) rotate(-90)" font-size="12.4" text-anchor="middle" fill="#000" stroke="#000" stroke-width="0.15">0.100</text>
<line x1="1101.20" y1="211.60" x2="1109.20" y2="211.60" stroke="#111" stroke-width="1.1"/>
<line x1="1101.20" y1="169.30" x2="1109.20" y2="169.30" stroke="#111" stroke-width="1.1"/>
<text transform="translate(1090.70 169.30) scale(1.0800 1.0240) rotate(-90)" font-size="12.4" text-anchor="middle" fill="#000" stroke="#000" stroke-width="0.15">0.110</text>
<line x1="1101.20" y1="127.00" x2="1109.20" y2="127.00" stroke="#111" stroke-width="1.1"/>
<line x1="1101.20" y1="84.70" x2="1109.20" y2="84.70" stroke="#111" stroke-width="1.1"/>
<text transform="translate(1090.70 84.70) scale(1.0800 1.0240) rotate(-90)" font-size="12.4" text-anchor="middle" fill="#000" stroke="#000" stroke-width="0.15">0.120</text>
<line x1="1101.20" y1="42.40" x2="1109.20" y2="42.40" stroke="#111" stroke-width="1.1"/>
<line x1="1128.60" y1="356.80" x2="1128.60" y2="365.60" stroke="#111" stroke-width="1.1"/>
<text transform="translate(1128.60 385.00) scale(1.0000 1.1000)" font-size="12.4" text-anchor="middle" fill="#000" stroke="#000" stroke-width="0.15">1</text>
<line x1="1180.47" y1="356.80" x2="1180.47" y2="365.60" stroke="#111" stroke-width="1.1"/>
<text transform="translate(1180.47 385.00) scale(1.0000 1.1000)" font-size="12.4" text-anchor="middle" fill="#000" stroke="#000" stroke-width="0.15">2</text>
<line x1="1249.03" y1="356.80" x2="1249.03" y2="365.60" stroke="#111" stroke-width="1.1"/>
<text transform="translate(1249.03 385.00) scale(1.0000 1.1000)" font-size="12.4" text-anchor="middle" fill="#000" stroke="#000" stroke-width="0.15">5</text>
<line x1="1300.90" y1="356.80" x2="1300.90" y2="365.60" stroke="#111" stroke-width="1.1"/>
<text transform="translate(1300.90 385.00) scale(1.0000 1.1000)" font-size="12.4" text-anchor="middle" fill="#000" stroke="#000" stroke-width="0.15">10</text>
<line x1="1352.77" y1="356.80" x2="1352.77" y2="365.60" stroke="#111" stroke-width="1.1"/>
<text transform="translate(1352.77 385.00) scale(1.0000 1.1000)" font-size="12.4" text-anchor="middle" fill="#000" stroke="#000" stroke-width="0.15">20</text>
<line x1="1421.33" y1="356.80" x2="1421.33" y2="365.60" stroke="#111" stroke-width="1.1"/>
<text transform="translate(1421.33 385.00) scale(1.0000 1.1000)" font-size="12.4" text-anchor="middle" fill="#000" stroke="#000" stroke-width="0.15">50</text>
<line x1="1473.20" y1="356.80" x2="1473.20" y2="365.60" stroke="#111" stroke-width="1.1"/>
<text transform="translate(1473.20 385.00) scale(1.0000 1.1000)" font-size="12.4" text-anchor="middle" fill="#000" stroke="#000" stroke-width="0.15">100</text>
<line x1="1525.07" y1="356.80" x2="1525.07" y2="365.60" stroke="#111" stroke-width="1.1"/>
<text transform="translate(1525.07 385.00) scale(1.0000 1.1000)" font-size="12.4" text-anchor="middle" fill="#000" stroke="#000" stroke-width="0.15">200</text>
<line x1="1593.63" y1="356.80" x2="1593.63" y2="365.60" stroke="#111" stroke-width="1.1"/>
<text transform="translate(1593.63 385.00) scale(1.0000 1.1000)" font-size="12.4" text-anchor="middle" fill="#000" stroke="#000" stroke-width="0.15">500</text>
<text transform="translate(1374.35 410.30) scale(1.0000 1.1000)" font-size="12.4" text-anchor="middle" fill="#000" stroke="#000" stroke-width="0.15">n.var</text>
<text transform="translate(1058.60 193.00) scale(1.0800 1.0240) rotate(-90)" font-size="12.4" text-anchor="middle" fill="#000" stroke="#000" stroke-width="0.15">error.cv</text>
<polyline fill="none" stroke="#000" stroke-width="2.4" stroke-linejoin="round" points="1128.60,193.47 1210.81,42.40 1262.68,344.54 1308.03,344.54 1359.90,42.40 1411.77,42.40 1463.63,193.47 1515.50,193.47 1567.37,193.47 1619.24,42.40"/>
<ellipse cx="1128.60" cy="193.47" rx="2.9" ry="3.1" fill="none" stroke="#000" stroke-width="1.7"/>
<ellipse cx="1210.81" cy="42.40" rx="2.9" ry="3.1" fill="none" stroke="#000" stroke-width="1.7"/>
<ellipse cx="1262.68" cy="344.54" rx="3.0" ry="3.2" fill="#d42a1a"/>
<ellipse cx="1308.03" cy="344.54" rx="2.9" ry="3.1" fill="none" stroke="#000" stroke-width="1.7"/>
<ellipse cx="1359.90" cy="42.40" rx="2.9" ry="3.1" fill="none" stroke="#000" stroke-width="1.7"/>
<ellipse cx="1411.77" cy="42.40" rx="2.9" ry="3.1" fill="none" stroke="#000" stroke-width="1.7"/>
<ellipse cx="1463.63" cy="193.47" rx="2.9" ry="3.1" fill="none" stroke="#000" stroke-width="1.7"/>
<ellipse cx="1515.50" cy="193.47" rx="2.9" ry="3.1" fill="none" stroke="#000" stroke-width="1.7"/>
<ellipse cx="1567.37" cy="193.47" rx="2.9" ry="3.1" fill="none" stroke="#000" stroke-width="1.7"/>
<ellipse cx="1619.24" cy="42.40" rx="2.9" ry="3.1" fill="none" stroke="#000" stroke-width="1.7"/>
<text transform="translate(1144.30 344.90) scale(1.0000 1.0300)" font-size="16.1" text-anchor="start" fill="#ff0000" stroke="#ff0000" stroke-width="0.2">N=6</text>
<line x1="1188.70" y1="339.20" x2="1243.60" y2="339.20" stroke="#ff0000" stroke-width="1.5"/>
<path d="M1249.60 339.20 L1236.70 333.80 L1239.60 339.20 L1236.70 344.60 Z" fill="#ff0000"/>
</g>
<g id="panelE">
<rect x="1117.85" y="439.83" width="518.05" height="12.73" fill="#00a2ff"/>
<line x1="1087.30" y1="446.20" x2="1092.30" y2="446.20" stroke="#000" stroke-width="1.6"/>
<text transform="translate(1082.90 450.61) scale(1.0000 1.0700)" font-size="12.3" text-anchor="end" fill="#000" stroke="#000" stroke-width="0.15">DENND5A</text>
<rect x="1117.85" y="453.98" width="516.25" height="12.73" fill="#00a2ff"/>
<line x1="1087.30" y1="460.34" x2="1092.30" y2="460.34" stroke="#000" stroke-width="1.6"/>
<text transform="translate(1082.90 464.76) scale(1.0000 1.0700)" font-size="12.3" text-anchor="end" fill="#000" stroke="#000" stroke-width="0.15">TMCO3</text>
<rect x="1117.85" y="468.12" width="432.75" height="12.73" fill="#00a2ff"/>
<line x1="1087.30" y1="474.49" x2="1092.30" y2="474.49" stroke="#000" stroke-width="1.6"/>
<text transform="translate(1082.90 478.90) scale(1.0000 1.0700)" font-size="12.3" text-anchor="end" fill="#000" stroke="#000" stroke-width="0.15">RCAN1</text>
<rect x="1117.85" y="482.27" width="298.15" height="12.73" fill="#00a2ff"/>
<line x1="1087.30" y1="488.63" x2="1092.30" y2="488.63" stroke="#000" stroke-width="1.6"/>
<text transform="translate(1082.90 493.05) scale(1.0000 1.0700)" font-size="12.3" text-anchor="end" fill="#000" stroke="#000" stroke-width="0.15">PHTF2</text>
<rect x="1117.85" y="496.41" width="200.45" height="12.73" fill="#00a2ff"/>
<line x1="1087.30" y1="502.78" x2="1092.30" y2="502.78" stroke="#000" stroke-width="1.6"/>
<text transform="translate(1082.90 507.19) scale(1.0000 1.0700)" font-size="12.3" text-anchor="end" fill="#000" stroke="#000" stroke-width="0.15">UTP23</text>
<rect x="1117.85" y="510.56" width="189.35" height="12.73" fill="#00a2ff"/>
<line x1="1087.30" y1="516.92" x2="1092.30" y2="516.92" stroke="#000" stroke-width="1.6"/>
<text transform="translate(1082.90 521.34) scale(1.0000 1.0700)" font-size="12.3" text-anchor="end" fill="#000" stroke="#000" stroke-width="0.15">NIN</text>
<rect x="1117.85" y="524.70" width="184.85" height="12.73" fill="#00a2ff"/>
<line x1="1087.30" y1="531.07" x2="1092.30" y2="531.07" stroke="#000" stroke-width="1.6"/>
<text transform="translate(1082.90 535.48) scale(1.0000 1.0700)" font-size="12.3" text-anchor="end" fill="#000" stroke="#000" stroke-width="0.15">FLI1</text>
<rect x="1117.85" y="538.85" width="183.35" height="12.73" fill="#00a2ff"/>
<line x1="1087.30" y1="545.21" x2="1092.30" y2="545.21" stroke="#000" stroke-width="1.6"/>
<text transform="translate(1082.90 549.63) scale(1.0000 1.0700)" font-size="12.3" text-anchor="end" fill="#000" stroke="#000" stroke-width="0.15">EXOC5</text>
<rect x="1117.85" y="552.99" width="177.05" height="12.73" fill="#00a2ff"/>
<line x1="1087.30" y1="559.36" x2="1092.30" y2="559.36" stroke="#000" stroke-width="1.6"/>
<text transform="translate(1082.90 563.77) scale(1.0000 1.0700)" font-size="12.3" text-anchor="end" fill="#000" stroke="#000" stroke-width="0.15">CTNNA1</text>
<rect x="1117.85" y="567.14" width="174.95" height="12.73" fill="#00a2ff"/>
<line x1="1087.30" y1="573.50" x2="1092.30" y2="573.50" stroke="#000" stroke-width="1.6"/>
<text transform="translate(1082.90 577.92) scale(1.0000 1.0700)" font-size="12.3" text-anchor="end" fill="#000" stroke="#000" stroke-width="0.15">CEP120</text>
<rect x="1117.85" y="581.28" width="169.65" height="12.73" fill="#00a2ff"/>
<line x1="1087.30" y1="587.65" x2="1092.30" y2="587.65" stroke="#000" stroke-width="1.6"/>
<text transform="translate(1082.90 592.06) scale(1.0000 1.0700)" font-size="12.3" text-anchor="end" fill="#000" stroke="#000" stroke-width="0.15">CNOT4</text>
<rect x="1117.85" y="595.43" width="159.95" height="12.73" fill="#00a2ff"/>
<line x1="1087.30" y1="601.79" x2="1092.30" y2="601.79" stroke="#000" stroke-width="1.6"/>
<text transform="translate(1082.90 606.21) scale(1.0000 1.0700)" font-size="12.3" text-anchor="end" fill="#000" stroke="#000" stroke-width="0.15">INPP5A</text>
<rect x="1117.85" y="609.57" width="138.35" height="12.73" fill="#00a2ff"/>
<line x1="1087.30" y1="615.94" x2="1092.30" y2="615.94" stroke="#000" stroke-width="1.6"/>
<text transform="translate(1082.90 620.35) scale(1.0000 1.0700)" font-size="12.3" text-anchor="end" fill="#000" stroke="#000" stroke-width="0.15">CTDSPL2</text>
<rect x="1117.85" y="623.72" width="129.20" height="12.73" fill="#00a2ff"/>
<line x1="1087.30" y1="630.08" x2="1092.30" y2="630.08" stroke="#000" stroke-width="1.6"/>
<text transform="translate(1082.90 634.50) scale(1.0000 1.0700)" font-size="12.3" text-anchor="end" fill="#000" stroke="#000" stroke-width="0.15">RALB</text>
<rect x="1117.85" y="637.86" width="128.45" height="12.73" fill="#00a2ff"/>
<line x1="1087.30" y1="644.23" x2="1092.30" y2="644.23" stroke="#000" stroke-width="1.6"/>
<text transform="translate(1082.90 648.64) scale(1.0000 1.0700)" font-size="12.3" text-anchor="end" fill="#000" stroke="#000" stroke-width="0.15">STYX</text>
<rect x="1117.85" y="652.01" width="123.45" height="12.73" fill="#00a2ff"/>
<line x1="1087.30" y1="658.37" x2="1092.30" y2="658.37" stroke="#000" stroke-width="1.6"/>
<text transform="translate(1082.90 662.79) scale(1.0000 1.0700)" font-size="12.3" text-anchor="end" fill="#000" stroke="#000" stroke-width="0.15">FBXO5</text>
<rect x="1117.85" y="666.15" width="117.85" height="12.73" fill="#00a2ff"/>
<line x1="1087.30" y1="672.52" x2="1092.30" y2="672.52" stroke="#000" stroke-width="1.6"/>
<text transform="translate(1082.90 676.93) scale(1.0000 1.0700)" font-size="12.3" text-anchor="end" fill="#000" stroke="#000" stroke-width="0.15">ARFIP1</text>
<rect x="1117.85" y="680.30" width="116.45" height="12.73" fill="#00a2ff"/>
<line x1="1087.30" y1="686.66" x2="1092.30" y2="686.66" stroke="#000" stroke-width="1.6"/>
<text transform="translate(1082.90 691.07) scale(1.0000 1.0700)" font-size="12.3" text-anchor="end" fill="#000" stroke="#000" stroke-width="0.15">PEX2</text>
<rect x="1117.85" y="694.44" width="108.85" height="12.73" fill="#00a2ff"/>
<line x1="1087.30" y1="700.81" x2="1092.30" y2="700.81" stroke="#000" stroke-width="1.6"/>
<text transform="translate(1082.90 705.22) scale(1.0000 1.0700)" font-size="12.3" text-anchor="end" fill="#000" stroke="#000" stroke-width="0.15">KBTBD4</text>
<rect x="1117.85" y="708.59" width="104.35" height="12.73" fill="#00a2ff"/>
<line x1="1087.30" y1="714.95" x2="1092.30" y2="714.95" stroke="#000" stroke-width="1.6"/>
<text transform="translate(1082.90 719.36) scale(1.0000 1.0700)" font-size="12.3" text-anchor="end" fill="#000" stroke="#000" stroke-width="0.15">LCA5</text>
<rect x="1117.85" y="722.73" width="94.85" height="12.73" fill="#00a2ff"/>
<line x1="1087.30" y1="729.10" x2="1092.30" y2="729.10" stroke="#000" stroke-width="1.6"/>
<text transform="translate(1082.90 733.51) scale(1.0000 1.0700)" font-size="12.3" text-anchor="end" fill="#000" stroke="#000" stroke-width="0.15">MBNL2</text>
<rect x="1117.85" y="736.88" width="92.35" height="12.73" fill="#00a2ff"/>
<line x1="1087.30" y1="743.24" x2="1092.30" y2="743.24" stroke="#000" stroke-width="1.6"/>
<text transform="translate(1082.90 747.65) scale(1.0000 1.0700)" font-size="12.3" text-anchor="end" fill="#000" stroke="#000" stroke-width="0.15">DCAF17</text>
<rect x="1117.85" y="751.02" width="91.75" height="12.73" fill="#00a2ff"/>
<line x1="1087.30" y1="757.39" x2="1092.30" y2="757.39" stroke="#000" stroke-width="1.6"/>
<text transform="translate(1082.90 761.80) scale(1.0000 1.0700)" font-size="12.3" text-anchor="end" fill="#000" stroke="#000" stroke-width="0.15">RMND5A</text>
<rect x="1117.85" y="765.17" width="91.55" height="12.73" fill="#00a2ff"/>
<line x1="1087.30" y1="771.53" x2="1092.30" y2="771.53" stroke="#000" stroke-width="1.6"/>
<text transform="translate(1082.90 775.94) scale(1.0000 1.0700)" font-size="12.3" text-anchor="end" fill="#000" stroke="#000" stroke-width="0.15">RAB8B</text>
<rect x="1117.85" y="779.31" width="90.15" height="12.73" fill="#00a2ff"/>
<line x1="1087.30" y1="785.68" x2="1092.30" y2="785.68" stroke="#000" stroke-width="1.6"/>
<text transform="translate(1082.90 790.09) scale(1.0000 1.0700)" font-size="12.3" text-anchor="end" fill="#000" stroke="#000" stroke-width="0.15">SS18</text>
<rect x="1117.85" y="793.46" width="87.05" height="12.73" fill="#00a2ff"/>
<line x1="1087.30" y1="799.82" x2="1092.30" y2="799.82" stroke="#000" stroke-width="1.6"/>
<text transform="translate(1082.90 804.23) scale(1.0000 1.0700)" font-size="12.3" text-anchor="end" fill="#000" stroke="#000" stroke-width="0.15">DCUN1D1</text>
<rect x="1117.85" y="807.60" width="84.95" height="12.73" fill="#00a2ff"/>
<line x1="1087.30" y1="813.97" x2="1092.30" y2="813.97" stroke="#000" stroke-width="1.6"/>
<text transform="translate(1082.90 818.38) scale(1.0000 1.0700)" font-size="12.3" text-anchor="end" fill="#000" stroke="#000" stroke-width="0.15">CYB5B</text>
<rect x="1117.85" y="821.75" width="83.85" height="12.73" fill="#00a2ff"/>
<line x1="1087.30" y1="828.11" x2="1092.30" y2="828.11" stroke="#000" stroke-width="1.6"/>
<text transform="translate(1082.90 832.52) scale(1.0000 1.0700)" font-size="12.3" text-anchor="end" fill="#000" stroke="#000" stroke-width="0.15">ABCC9</text>
<rect x="1117.85" y="835.89" width="76.25" height="12.73" fill="#00a2ff"/>
<line x1="1087.30" y1="842.26" x2="1092.30" y2="842.26" stroke="#000" stroke-width="1.6"/>
<text transform="translate(1082.90 846.67) scale(1.0000 1.0700)" font-size="12.3" text-anchor="end" fill="#000" stroke="#000" stroke-width="0.15">C4orf46</text>
<rect x="1117.85" y="850.04" width="76.25" height="12.73" fill="#00a2ff"/>
<line x1="1087.30" y1="856.40" x2="1092.30" y2="856.40" stroke="#000" stroke-width="1.6"/>
<text transform="translate(1082.90 860.81) scale(1.0000 1.0700)" font-size="12.3" text-anchor="end" fill="#000" stroke="#000" stroke-width="0.15">ETV1</text>
<rect x="1117.85" y="864.18" width="76.15" height="12.73" fill="#00a2ff"/>
<line x1="1087.30" y1="870.55" x2="1092.30" y2="870.55" stroke="#000" stroke-width="1.6"/>
<text transform="translate(1082.90 874.96) scale(1.0000 1.0700)" font-size="12.3" text-anchor="end" fill="#000" stroke="#000" stroke-width="0.15">RNF38</text>
<rect x="1117.85" y="878.33" width="73.95" height="12.73" fill="#00a2ff"/>
<line x1="1087.30" y1="884.69" x2="1092.30" y2="884.69" stroke="#000" stroke-width="1.6"/>
<text transform="translate(1082.90 889.10) scale(1.0000 1.0700)" font-size="12.3" text-anchor="end" fill="#000" stroke="#000" stroke-width="0.15">ELOVL4</text>
<rect x="1117.85" y="892.47" width="71.25" height="12.73" fill="#00a2ff"/>
<line x1="1087.30" y1="898.84" x2="1092.30" y2="898.84" stroke="#000" stroke-width="1.6"/>
<text transform="translate(1082.90 903.25) scale(1.0000 1.0700)" font-size="12.3" text-anchor="end" fill="#000" stroke="#000" stroke-width="0.15">LMAN1</text>
<rect x="1117.85" y="906.62" width="69.25" height="12.73" fill="#00a2ff"/>
<line x1="1087.30" y1="912.98" x2="1092.30" y2="912.98" stroke="#000" stroke-width="1.6"/>
<text transform="translate(1082.90 917.39) scale(1.0000 1.0700)" font-size="12.3" text-anchor="end" fill="#000" stroke="#000" stroke-width="0.15">C16orf54</text>
<rect x="1117.85" y="920.76" width="68.55" height="12.73" fill="#00a2ff"/>
<line x1="1087.30" y1="927.13" x2="1092.30" y2="927.13" stroke="#000" stroke-width="1.6"/>
<text transform="translate(1082.90 931.54) scale(1.0000 1.0700)" font-size="12.3" text-anchor="end" fill="#000" stroke="#000" stroke-width="0.15">CAPRIN1</text>
<rect x="1117.85" y="934.91" width="67.85" height="12.73" fill="#00a2ff"/>
<line x1="1087.30" y1="941.27" x2="1092.30" y2="941.27" stroke="#000" stroke-width="1.6"/>
<text transform="translate(1082.90 945.68) scale(1.0000 1.0700)" font-size="12.3" text-anchor="end" fill="#000" stroke="#000" stroke-width="0.15">STX7</text>
<rect x="1117.85" y="949.05" width="67.85" height="12.73" fill="#00a2ff"/>
<line x1="1087.30" y1="955.42" x2="1092.30" y2="955.42" stroke="#000" stroke-width="1.6"/>
<text transform="translate(1082.90 959.83) scale(1.0000 1.0700)" font-size="12.3" text-anchor="end" fill="#000" stroke="#000" stroke-width="0.15">ST8SIA4</text>
<rect x="1117.85" y="963.20" width="67.15" height="12.73" fill="#00a2ff"/>
<line x1="1087.30" y1="969.56" x2="1092.30" y2="969.56" stroke="#000" stroke-width="1.6"/>
<text transform="translate(1082.90 973.97) scale(1.0000 1.0700)" font-size="12.3" text-anchor="end" fill="#000" stroke="#000" stroke-width="0.15">AGPAT5</text>
<rect x="1117.85" y="977.34" width="66.25" height="12.73" fill="#00a2ff"/>
<line x1="1087.30" y1="983.71" x2="1092.30" y2="983.71" stroke="#000" stroke-width="1.6"/>
<text transform="translate(1082.90 988.12) scale(1.0000 1.0700)" font-size="12.3" text-anchor="end" fill="#000" stroke="#000" stroke-width="0.15">CALU</text>
<rect x="1117.85" y="991.49" width="66.05" height="12.73" fill="#00a2ff"/>
<line x1="1087.30" y1="997.85" x2="1092.30" y2="997.85" stroke="#000" stroke-width="1.6"/>
<text transform="translate(1082.90 1002.26) scale(1.0000 1.0700)" font-size="12.3" text-anchor="end" fill="#000" stroke="#000" stroke-width="0.15">SGCB</text>
<rect x="1117.85" y="1005.63" width="65.15" height="12.73" fill="#00a2ff"/>
<line x1="1087.30" y1="1012.00" x2="1092.30" y2="1012.00" stroke="#000" stroke-width="1.6"/>
<text transform="translate(1082.90 1016.41) scale(1.0000 1.0700)" font-size="12.3" text-anchor="end" fill="#000" stroke="#000" stroke-width="0.15">SOCS2</text>
<rect x="1117.85" y="1019.78" width="64.55" height="12.73" fill="#00a2ff"/>
<line x1="1087.30" y1="1026.14" x2="1092.30" y2="1026.14" stroke="#000" stroke-width="1.6"/>
<text transform="translate(1082.90 1030.55) scale(1.0000 1.0700)" font-size="12.3" text-anchor="end" fill="#000" stroke="#000" stroke-width="0.15">ATP11B</text>
<rect x="1117.85" y="1033.92" width="61.00" height="12.73" fill="#00a2ff"/>
<line x1="1087.30" y1="1040.29" x2="1092.30" y2="1040.29" stroke="#000" stroke-width="1.6"/>
<text transform="translate(1082.90 1044.70) scale(1.0000 1.0700)" font-size="12.3" text-anchor="end" fill="#000" stroke="#000" stroke-width="0.15">QPCT</text>
<rect x="1117.85" y="1048.07" width="61.00" height="12.73" fill="#00a2ff"/>
<line x1="1087.30" y1="1054.43" x2="1092.30" y2="1054.43" stroke="#000" stroke-width="1.6"/>
<text transform="translate(1082.90 1058.84) scale(1.0000 1.0700)" font-size="12.3" text-anchor="end" fill="#000" stroke="#000" stroke-width="0.15">MSR1</text>
<rect x="1117.85" y="1062.21" width="59.05" height="12.73" fill="#00a2ff"/>
<line x1="1087.30" y1="1068.58" x2="1092.30" y2="1068.58" stroke="#000" stroke-width="1.6"/>
<text transform="translate(1082.90 1072.99) scale(1.0000 1.0700)" font-size="12.3" text-anchor="end" fill="#000" stroke="#000" stroke-width="0.15">WDR44</text>
<rect x="1117.85" y="1076.36" width="59.05" height="12.73" fill="#00a2ff"/>
<line x1="1087.30" y1="1082.72" x2="1092.30" y2="1082.72" stroke="#000" stroke-width="1.6"/>
<text transform="translate(1082.90 1087.13) scale(1.0000 1.0700)" font-size="12.3" text-anchor="end" fill="#000" stroke="#000" stroke-width="0.15">CMPK1</text>
<rect x="1117.85" y="1090.50" width="58.65" height="12.73" fill="#00a2ff"/>
<line x1="1087.30" y1="1096.87" x2="1092.30" y2="1096.87" stroke="#000" stroke-width="1.6"/>
<text transform="translate(1082.90 1101.28) scale(1.0000 1.0700)" font-size="12.3" text-anchor="end" fill="#000" stroke="#000" stroke-width="0.15">ICK</text>
<rect x="1117.85" y="1104.64" width="58.65" height="12.73" fill="#00a2ff"/>
<line x1="1087.30" y1="1111.01" x2="1092.30" y2="1111.01" stroke="#000" stroke-width="1.6"/>
<text transform="translate(1082.90 1115.42) scale(1.0000 1.0700)" font-size="12.3" text-anchor="end" fill="#000" stroke="#000" stroke-width="0.15">WDR48</text>
<rect x="1117.85" y="1118.79" width="58.45" height="12.73" fill="#00a2ff"/>
<line x1="1087.30" y1="1125.16" x2="1092.30" y2="1125.16" stroke="#000" stroke-width="1.6"/>
<text transform="translate(1082.90 1129.57) scale(1.0000 1.0700)" font-size="12.3" text-anchor="end" fill="#000" stroke="#000" stroke-width="0.15">CBFB</text>
<rect x="1117.85" y="1132.93" width="58.15" height="12.73" fill="#00a2ff"/>
<line x1="1087.30" y1="1139.30" x2="1092.30" y2="1139.30" stroke="#000" stroke-width="1.6"/>
<text transform="translate(1082.90 1143.71) scale(1.0000 1.0700)" font-size="12.3" text-anchor="end" fill="#000" stroke="#000" stroke-width="0.15">CCDC132</text>
<line x1="1092.30" y1="438.25" x2="1092.30" y2="1148.20" stroke="#000" stroke-width="1.6"/>
<line x1="1091.50" y1="1147.40" x2="1662.00" y2="1147.40" stroke="#000" stroke-width="1.6"/>
<line x1="1117.85" y1="1147.40" x2="1117.85" y2="1152.40" stroke="#000" stroke-width="1.6"/>
<text transform="translate(1117.85 1165.00) scale(1.0000 1.0700)" font-size="12.3" text-anchor="middle" fill="#000" stroke="#000" stroke-width="0.15">0.000</text>
<line x1="1254.25" y1="1147.40" x2="1254.25" y2="1152.40" stroke="#000" stroke-width="1.6"/>
<text transform="translate(1254.25 1165.00) scale(1.0000 1.0700)" font-size="12.3" text-anchor="middle" fill="#000" stroke="#000" stroke-width="0.15">0.003</text>
<line x1="1390.65" y1="1147.40" x2="1390.65" y2="1152.40" stroke="#000" stroke-width="1.6"/>
<text transform="translate(1390.65 1165.00) scale(1.0000 1.0700)" font-size="12.3" text-anchor="middle" fill="#000" stroke="#000" stroke-width="0.15">0.006</text>
<line x1="1527.05" y1="1147.40" x2="1527.05" y2="1152.40" stroke="#000" stroke-width="1.6"/>
<text transform="translate(1527.05 1165.00) scale(1.0000 1.0700)" font-size="12.3" text-anchor="middle" fill="#000" stroke="#000" stroke-width="0.15">0.009</text>
<text transform="translate(1376.80 1183.30) scale(1.0000 1.0700)" font-size="12.3" text-anchor="middle" fill="#000" stroke="#000" stroke-width="0.15">MeanDecreaseAccuracy</text>
<text transform="translate(1015.60 806.75) scale(1.0700 1.0000) rotate(-90)" font-size="12.3" text-anchor="middle" fill="#000" stroke="#000" stroke-width="0.15">name</text>
</g>
<g id="panelF">
<line x1="1694.45" y1="18.40" x2="1949.95" y2="18.40" stroke="#000" stroke-width="1.5" stroke-dasharray="17.732 2.418 3.526 2.317 3.526 2.418" stroke-dashoffset="8.866"/>
<line x1="1949.20" y1="18.40" x2="1949.20" y2="1194.00" stroke="#000" stroke-width="1.5" stroke-dasharray="17.641 2.406 3.508 2.305 3.508 2.406" stroke-dashoffset="8.820"/>
<line x1="1949.95" y1="1194.00" x2="1694.45" y2="1194.00" stroke="#000" stroke-width="1.5" stroke-dasharray="17.732 2.418 3.526 2.317 3.526 2.418" stroke-dashoffset="8.866"/>
<line x1="1695.20" y1="1194.00" x2="1695.20" y2="18.40" stroke="#000" stroke-width="1.5" stroke-dasharray="17.641 2.406 3.508 2.305 3.508 2.406" stroke-dashoffset="8.820"/>
<line x1="1741.20" y1="218.25" x2="1915.30" y2="44.40" stroke="#808080" stroke-width="1.15"/>
<polyline fill="none" stroke="#ff0000" stroke-width="2.3" stroke-linejoin="miter" points="1747.88,213.02 1747.88,135.38 1752.28,135.38 1752.28,119.69 1756.88,119.69 1756.88,73.86 1761.49,73.86 1761.49,50.85 1909.01,50.85"/>
<line x1="1739.80" y1="44.40" x2="1916.70" y2="44.40" stroke="#000" stroke-width="3.0"/>
<line x1="1739.80" y1="218.25" x2="1916.70" y2="218.25" stroke="#000" stroke-width="3.0"/>
<line x1="1741.20" y1="44.40" x2="1741.20" y2="218.25" stroke="#000" stroke-width="2.8"/>
<line x1="1915.30" y1="44.40" x2="1915.30" y2="218.25" stroke="#000" stroke-width="2.8"/>
<line x1="1909.00" y1="219.75" x2="1909.00" y2="222.55" stroke="#111" stroke-width="1.3"/>
<line x1="1737.00" y1="212.00" x2="1739.80" y2="212.00" stroke="#111" stroke-width="1.3"/>
<text transform="translate(1909.00 229.80)" font-size="6.1" text-anchor="middle" fill="#111" stroke="#111" stroke-width="0.1">0.0</text>
<text transform="translate(1732.60 212.00) rotate(-90)" font-size="6.1" text-anchor="middle" fill="#111" stroke="#111" stroke-width="0.1">0.0</text>
<line x1="1876.86" y1="219.75" x2="1876.86" y2="222.55" stroke="#111" stroke-width="1.3"/>
<line x1="1737.00" y1="179.76" x2="1739.80" y2="179.76" stroke="#111" stroke-width="1.3"/>
<text transform="translate(1876.86 229.80)" font-size="6.1" text-anchor="middle" fill="#111" stroke="#111" stroke-width="0.1">0.2</text>
<text transform="translate(1732.60 179.76) rotate(-90)" font-size="6.1" text-anchor="middle" fill="#111" stroke="#111" stroke-width="0.1">0.2</text>
<line x1="1844.72" y1="219.75" x2="1844.72" y2="222.55" stroke="#111" stroke-width="1.3"/>
<line x1="1737.00" y1="147.52" x2="1739.80" y2="147.52" stroke="#111" stroke-width="1.3"/>
<text transform="translate(1844.72 229.80)" font-size="6.1" text-anchor="middle" fill="#111" stroke="#111" stroke-width="0.1">0.4</text>
<text transform="translate(1732.60 147.52) rotate(-90)" font-size="6.1" text-anchor="middle" fill="#111" stroke="#111" stroke-width="0.1">0.4</text>
<line x1="1812.58" y1="219.75" x2="1812.58" y2="222.55" stroke="#111" stroke-width="1.3"/>
<line x1="1737.00" y1="115.28" x2="1739.80" y2="115.28" stroke="#111" stroke-width="1.3"/>
<text transform="translate(1812.58 229.80)" font-size="6.1" text-anchor="middle" fill="#111" stroke="#111" stroke-width="0.1">0.6</text>
<text transform="translate(1732.60 115.28) rotate(-90)" font-size="6.1" text-anchor="middle" fill="#111" stroke="#111" stroke-width="0.1">0.6</text>
<line x1="1780.44" y1="219.75" x2="1780.44" y2="222.55" stroke="#111" stroke-width="1.3"/>
<line x1="1737.00" y1="83.04" x2="1739.80" y2="83.04" stroke="#111" stroke-width="1.3"/>
<text transform="translate(1780.44 229.80)" font-size="6.1" text-anchor="middle" fill="#111" stroke="#111" stroke-width="0.1">0.8</text>
<text transform="translate(1732.60 83.04) rotate(-90)" font-size="6.1" text-anchor="middle" fill="#111" stroke="#111" stroke-width="0.1">0.8</text>
<line x1="1748.30" y1="219.75" x2="1748.30" y2="222.55" stroke="#111" stroke-width="1.3"/>
<line x1="1737.00" y1="50.80" x2="1739.80" y2="50.80" stroke="#111" stroke-width="1.3"/>
<text transform="translate(1748.30 229.80)" font-size="6.1" text-anchor="middle" fill="#111" stroke="#111" stroke-width="0.1">1.0</text>
<text transform="translate(1732.60 50.80) rotate(-90)" font-size="6.1" text-anchor="middle" fill="#111" stroke="#111" stroke-width="0.1">1.0</text>
<text transform="translate(1828.40 238.50)" font-size="6.1" text-anchor="middle" fill="#111" stroke="#111" stroke-width="0.1">Specificity</text>
<text transform="translate(1721.70 131.40) rotate(-90)" font-size="6.1" text-anchor="middle" fill="#111" stroke="#111" stroke-width="0.1">Sensitivity</text>
<text transform="translate(1833.05 38.70) scale(1.0000 1.0300)" font-size="16.7" text-anchor="middle" fill="#000" stroke="#000" stroke-width="0.1">Train</text>
<text transform="translate(1820.80 151.10) scale(1.0000 1.0300)" font-size="16.8" text-anchor="start" fill="#ff0000">AUC: 0.969</text>
<line x1="1742.00" y1="445.90" x2="1924.10" y2="264.30" stroke="#808080" stroke-width="1.15"/>
<polyline fill="none" stroke="#ff0000" stroke-width="2.3" stroke-linejoin="miter" points="1748.30,438.60 1757.93,438.60 1757.93,382.73 1767.55,382.73 1767.55,270.78 1917.38,270.78"/>
<line x1="1740.60" y1="264.30" x2="1925.50" y2="264.30" stroke="#000" stroke-width="3.0"/>
<line x1="1740.60" y1="445.90" x2="1925.50" y2="445.90" stroke="#000" stroke-width="3.0"/>
<line x1="1742.00" y1="264.30" x2="1742.00" y2="445.90" stroke="#000" stroke-width="2.8"/>
<line x1="1924.10" y1="264.30" x2="1924.10" y2="445.90" stroke="#000" stroke-width="2.8"/>
<line x1="1917.00" y1="447.40" x2="1917.00" y2="450.20" stroke="#111" stroke-width="1.3"/>
<line x1="1737.80" y1="438.60" x2="1740.60" y2="438.60" stroke="#111" stroke-width="1.3"/>
<text transform="translate(1917.00 456.20)" font-size="6.4" text-anchor="middle" fill="#111" stroke="#111" stroke-width="0.15">0.0</text>
<text transform="translate(1732.60 438.60) rotate(-90)" font-size="6.4" text-anchor="middle" fill="#111" stroke="#111" stroke-width="0.15">0.0</text>
<line x1="1883.42" y1="447.40" x2="1883.42" y2="450.20" stroke="#111" stroke-width="1.3"/>
<line x1="1737.80" y1="405.00" x2="1740.60" y2="405.00" stroke="#111" stroke-width="1.3"/>
<text transform="translate(1883.42 456.20)" font-size="6.4" text-anchor="middle" fill="#111" stroke="#111" stroke-width="0.15">0.2</text>
<text transform="translate(1732.60 405.00) rotate(-90)" font-size="6.4" text-anchor="middle" fill="#111" stroke="#111" stroke-width="0.15">0.2</text>
<line x1="1849.84" y1="447.40" x2="1849.84" y2="450.20" stroke="#111" stroke-width="1.3"/>
<line x1="1737.80" y1="371.40" x2="1740.60" y2="371.40" stroke="#111" stroke-width="1.3"/>
<text transform="translate(1849.84 456.20)" font-size="6.4" text-anchor="middle" fill="#111" stroke="#111" stroke-width="0.15">0.4</text>
<text transform="translate(1732.60 371.40) rotate(-90)" font-size="6.4" text-anchor="middle" fill="#111" stroke="#111" stroke-width="0.15">0.4</text>
<line x1="1816.26" y1="447.40" x2="1816.26" y2="450.20" stroke="#111" stroke-width="1.3"/>
<line x1="1737.80" y1="337.80" x2="1740.60" y2="337.80" stroke="#111" stroke-width="1.3"/>
<text transform="translate(1816.26 456.20)" font-size="6.4" text-anchor="middle" fill="#111" stroke="#111" stroke-width="0.15">0.6</text>
<text transform="translate(1732.60 337.80) rotate(-90)" font-size="6.4" text-anchor="middle" fill="#111" stroke="#111" stroke-width="0.15">0.6</text>
<line x1="1782.68" y1="447.40" x2="1782.68" y2="450.20" stroke="#111" stroke-width="1.3"/>
<line x1="1737.80" y1="304.20" x2="1740.60" y2="304.20" stroke="#111" stroke-width="1.3"/>
<text transform="translate(1782.68 456.20)" font-size="6.4" text-anchor="middle" fill="#111" stroke="#111" stroke-width="0.15">0.8</text>
<text transform="translate(1732.60 304.20) rotate(-90)" font-size="6.4" text-anchor="middle" fill="#111" stroke="#111" stroke-width="0.15">0.8</text>
<line x1="1749.10" y1="447.40" x2="1749.10" y2="450.20" stroke="#111" stroke-width="1.3"/>
<line x1="1737.80" y1="270.60" x2="1740.60" y2="270.60" stroke="#111" stroke-width="1.3"/>
<text transform="translate(1749.10 456.20)" font-size="6.4" text-anchor="middle" fill="#111" stroke="#111" stroke-width="0.15">1.0</text>
<text transform="translate(1732.60 270.60) rotate(-90)" font-size="6.4" text-anchor="middle" fill="#111" stroke="#111" stroke-width="0.15">1.0</text>
<text transform="translate(1832.60 465.60)" font-size="6.4" text-anchor="middle" fill="#111" stroke="#111" stroke-width="0.15">Specificity</text>
<text transform="translate(1721.70 354.30) rotate(-90)" font-size="6.4" text-anchor="middle" fill="#111" stroke="#111" stroke-width="0.15">Sensitivity</text>
<text transform="translate(1836.80 259.70) scale(1.0000 1.0300)" font-size="16.7" text-anchor="middle" fill="#000" stroke="#000" stroke-width="0.1">Self-test</text>
<text transform="translate(1825.50 374.60) scale(1.0000 1.0300)" font-size="16.8" text-anchor="start" fill="#ff0000">AUC: 0.907</text>
<line x1="1737.40" y1="679.50" x2="1925.30" y2="492.20" stroke="#808080" stroke-width="1.15"/>
<polyline fill="none" stroke="#ff0000" stroke-width="2.3" stroke-linejoin="miter" points="1744.54,673.20 1744.54,585.74 1761.90,585.74 1761.90,499.63 1919.05,499.63"/>
<line x1="1736.00" y1="492.20" x2="1926.70" y2="492.20" stroke="#000" stroke-width="3.0"/>
<line x1="1736.00" y1="679.50" x2="1926.70" y2="679.50" stroke="#000" stroke-width="3.0"/>
<line x1="1737.40" y1="492.20" x2="1737.40" y2="679.50" stroke="#000" stroke-width="2.8"/>
<line x1="1925.30" y1="492.20" x2="1925.30" y2="679.50" stroke="#000" stroke-width="2.8"/>
<line x1="1919.05" y1="681.00" x2="1919.05" y2="683.80" stroke="#111" stroke-width="1.3"/>
<line x1="1733.20" y1="672.60" x2="1736.00" y2="672.60" stroke="#111" stroke-width="1.3"/>
<text transform="translate(1919.05 691.40)" font-size="6.6" text-anchor="middle" fill="#111" stroke="#111" stroke-width="0.2">0.0</text>
<text transform="translate(1728.00 672.60) rotate(-90)" font-size="6.6" text-anchor="middle" fill="#111" stroke="#111" stroke-width="0.2">0.0</text>
<line x1="1884.32" y1="681.00" x2="1884.32" y2="683.80" stroke="#111" stroke-width="1.3"/>
<line x1="1733.20" y1="638.00" x2="1736.00" y2="638.00" stroke="#111" stroke-width="1.3"/>
<text transform="translate(1884.32 691.40)" font-size="6.6" text-anchor="middle" fill="#111" stroke="#111" stroke-width="0.2">0.2</text>
<text transform="translate(1728.00 638.00) rotate(-90)" font-size="6.6" text-anchor="middle" fill="#111" stroke="#111" stroke-width="0.2">0.2</text>
<line x1="1849.59" y1="681.00" x2="1849.59" y2="683.80" stroke="#111" stroke-width="1.3"/>
<line x1="1733.20" y1="603.40" x2="1736.00" y2="603.40" stroke="#111" stroke-width="1.3"/>
<text transform="translate(1849.59 691.40)" font-size="6.6" text-anchor="middle" fill="#111" stroke="#111" stroke-width="0.2">0.4</text>
<text transform="translate(1728.00 603.40) rotate(-90)" font-size="6.6" text-anchor="middle" fill="#111" stroke="#111" stroke-width="0.2">0.4</text>
<line x1="1814.86" y1="681.00" x2="1814.86" y2="683.80" stroke="#111" stroke-width="1.3"/>
<line x1="1733.20" y1="568.80" x2="1736.00" y2="568.80" stroke="#111" stroke-width="1.3"/>
<text transform="translate(1814.86 691.40)" font-size="6.6" text-anchor="middle" fill="#111" stroke="#111" stroke-width="0.2">0.6</text>
<text transform="translate(1728.00 568.80) rotate(-90)" font-size="6.6" text-anchor="middle" fill="#111" stroke="#111" stroke-width="0.2">0.6</text>
<line x1="1780.13" y1="681.00" x2="1780.13" y2="683.80" stroke="#111" stroke-width="1.3"/>
<line x1="1733.20" y1="534.20" x2="1736.00" y2="534.20" stroke="#111" stroke-width="1.3"/>
<text transform="translate(1780.13 691.40)" font-size="6.6" text-anchor="middle" fill="#111" stroke="#111" stroke-width="0.2">0.8</text>
<text transform="translate(1728.00 534.20) rotate(-90)" font-size="6.6" text-anchor="middle" fill="#111" stroke="#111" stroke-width="0.2">0.8</text>
<line x1="1745.40" y1="681.00" x2="1745.40" y2="683.80" stroke="#111" stroke-width="1.3"/>
<line x1="1733.20" y1="499.60" x2="1736.00" y2="499.60" stroke="#111" stroke-width="1.3"/>
<text transform="translate(1745.40 691.40)" font-size="6.6" text-anchor="middle" fill="#111" stroke="#111" stroke-width="0.2">1.0</text>
<text transform="translate(1728.00 499.60) rotate(-90)" font-size="6.6" text-anchor="middle" fill="#111" stroke="#111" stroke-width="0.2">1.0</text>
<text transform="translate(1832.00 701.00)" font-size="6.6" text-anchor="middle" fill="#111" stroke="#111" stroke-width="0.2">Specificity</text>
<text transform="translate(1716.50 585.70) rotate(-90)" font-size="6.6" text-anchor="middle" fill="#111" stroke="#111" stroke-width="0.2">Sensitivity</text>
<text transform="translate(1832.20 487.90) scale(1.0000 1.0300)" font-size="16.95" text-anchor="middle" fill="#000" stroke="#000" stroke-width="0.1">Testing dataset:GSE2240</text>
<text transform="translate(1823.80 605.60) scale(1.0000 1.0300)" font-size="16.8" text-anchor="start" fill="#ff0000">AUC: 0.950</text>
<line x1="1737.40" y1="915.50" x2="1926.80" y2="726.60" stroke="#808080" stroke-width="1.15"/>
<polyline fill="none" stroke="#ff0000" stroke-width="2.3" stroke-linejoin="miter" points="1744.33,909.25 1744.33,803.37 1779.27,803.37 1779.27,768.42 1919.89,768.42 1919.89,733.06"/>
<line x1="1736.00" y1="726.60" x2="1928.20" y2="726.60" stroke="#000" stroke-width="3.0"/>
<line x1="1736.00" y1="915.50" x2="1928.20" y2="915.50" stroke="#000" stroke-width="3.0"/>
<line x1="1737.40" y1="726.60" x2="1737.40" y2="915.50" stroke="#000" stroke-width="2.8"/>
<line x1="1926.80" y1="726.60" x2="1926.80" y2="915.50" stroke="#000" stroke-width="2.8"/>
<line x1="1919.50" y1="917.00" x2="1919.50" y2="919.80" stroke="#111" stroke-width="1.3"/>
<line x1="1733.20" y1="908.80" x2="1736.00" y2="908.80" stroke="#111" stroke-width="1.3"/>
<text transform="translate(1919.50 927.00)" font-size="6.6" text-anchor="middle" fill="#111" stroke="#111" stroke-width="0.2">0.0</text>
<text transform="translate(1728.00 908.80) rotate(-90)" font-size="6.6" text-anchor="middle" fill="#111" stroke="#111" stroke-width="0.2">0.0</text>
<line x1="1884.46" y1="917.00" x2="1884.46" y2="919.80" stroke="#111" stroke-width="1.3"/>
<line x1="1733.20" y1="873.66" x2="1736.00" y2="873.66" stroke="#111" stroke-width="1.3"/>
<text transform="translate(1884.46 927.00)" font-size="6.6" text-anchor="middle" fill="#111" stroke="#111" stroke-width="0.2">0.2</text>
<text transform="translate(1728.00 873.66) rotate(-90)" font-size="6.6" text-anchor="middle" fill="#111" stroke="#111" stroke-width="0.2">0.2</text>
<line x1="1849.42" y1="917.00" x2="1849.42" y2="919.80" stroke="#111" stroke-width="1.3"/>
<line x1="1733.20" y1="838.52" x2="1736.00" y2="838.52" stroke="#111" stroke-width="1.3"/>
<text transform="translate(1849.42 927.00)" font-size="6.6" text-anchor="middle" fill="#111" stroke="#111" stroke-width="0.2">0.4</text>
<text transform="translate(1728.00 838.52) rotate(-90)" font-size="6.6" text-anchor="middle" fill="#111" stroke="#111" stroke-width="0.2">0.4</text>
<line x1="1814.38" y1="917.00" x2="1814.38" y2="919.80" stroke="#111" stroke-width="1.3"/>
<line x1="1733.20" y1="803.38" x2="1736.00" y2="803.38" stroke="#111" stroke-width="1.3"/>
<text transform="translate(1814.38 927.00)" font-size="6.6" text-anchor="middle" fill="#111" stroke="#111" stroke-width="0.2">0.6</text>
<text transform="translate(1728.00 803.38) rotate(-90)" font-size="6.6" text-anchor="middle" fill="#111" stroke="#111" stroke-width="0.2">0.6</text>
<line x1="1779.34" y1="917.00" x2="1779.34" y2="919.80" stroke="#111" stroke-width="1.3"/>
<line x1="1733.20" y1="768.24" x2="1736.00" y2="768.24" stroke="#111" stroke-width="1.3"/>
<text transform="translate(1779.34 927.00)" font-size="6.6" text-anchor="middle" fill="#111" stroke="#111" stroke-width="0.2">0.8</text>
<text transform="translate(1728.00 768.24) rotate(-90)" font-size="6.6" text-anchor="middle" fill="#111" stroke="#111" stroke-width="0.2">0.8</text>
<line x1="1744.30" y1="917.00" x2="1744.30" y2="919.80" stroke="#111" stroke-width="1.3"/>
<line x1="1733.20" y1="733.10" x2="1736.00" y2="733.10" stroke="#111" stroke-width="1.3"/>
<text transform="translate(1744.30 927.00)" font-size="6.6" text-anchor="middle" fill="#111" stroke="#111" stroke-width="0.2">1.0</text>
<text transform="translate(1728.00 733.10) rotate(-90)" font-size="6.6" text-anchor="middle" fill="#111" stroke="#111" stroke-width="0.2">1.0</text>
<text transform="translate(1831.00 937.50)" font-size="6.6" text-anchor="middle" fill="#111" stroke="#111" stroke-width="0.2">Specificity</text>
<text transform="translate(1716.50 820.90) rotate(-90)" font-size="6.6" text-anchor="middle" fill="#111" stroke="#111" stroke-width="0.2">Sensitivity</text>
<text transform="translate(1833.50 722.80) scale(1.0000 1.0300)" font-size="16.95" text-anchor="middle" fill="#000" stroke="#000" stroke-width="0.1">Testing dataset:GSE14975</text>
<text transform="translate(1826.40 840.60) scale(1.0000 1.0300)" font-size="16.8" text-anchor="start" fill="#ff0000">AUC: 0.760</text>
<line x1="1732.60" y1="1159.50" x2="1922.60" y2="970.10" stroke="#808080" stroke-width="1.15"/>
<polyline fill="none" stroke="#ff0000" stroke-width="2.3" stroke-linejoin="miter" points="1739.72,1152.57 1739.72,1046.69 1757.51,1046.69 1757.51,1011.33 1775.09,1011.33 1775.09,993.75 1862.97,993.75 1862.97,976.18 1916.54,976.18"/>
<line x1="1731.20" y1="970.10" x2="1924.00" y2="970.10" stroke="#000" stroke-width="3.0"/>
<line x1="1731.20" y1="1159.50" x2="1924.00" y2="1159.50" stroke="#000" stroke-width="3.0"/>
<line x1="1732.60" y1="970.10" x2="1732.60" y2="1159.50" stroke="#000" stroke-width="2.8"/>
<line x1="1922.60" y1="970.10" x2="1922.60" y2="1159.50" stroke="#000" stroke-width="2.8"/>
<line x1="1917.00" y1="1161.00" x2="1917.00" y2="1163.80" stroke="#111" stroke-width="1.3"/>
<line x1="1728.40" y1="1152.20" x2="1731.20" y2="1152.20" stroke="#111" stroke-width="1.3"/>
<text transform="translate(1917.00 1171.00)" font-size="6.6" text-anchor="middle" fill="#111" stroke="#111" stroke-width="0.2">0.0</text>
<text transform="translate(1722.80 1152.20) rotate(-90)" font-size="6.6" text-anchor="middle" fill="#111" stroke="#111" stroke-width="0.2">0.0</text>
<line x1="1881.76" y1="1161.00" x2="1881.76" y2="1163.80" stroke="#111" stroke-width="1.3"/>
<line x1="1728.40" y1="1117.00" x2="1731.20" y2="1117.00" stroke="#111" stroke-width="1.3"/>
<text transform="translate(1881.76 1171.00)" font-size="6.6" text-anchor="middle" fill="#111" stroke="#111" stroke-width="0.2">0.2</text>
<text transform="translate(1722.80 1117.00) rotate(-90)" font-size="6.6" text-anchor="middle" fill="#111" stroke="#111" stroke-width="0.2">0.2</text>
<line x1="1846.52" y1="1161.00" x2="1846.52" y2="1163.80" stroke="#111" stroke-width="1.3"/>
<line x1="1728.40" y1="1081.80" x2="1731.20" y2="1081.80" stroke="#111" stroke-width="1.3"/>
<text transform="translate(1846.52 1171.00)" font-size="6.6" text-anchor="middle" fill="#111" stroke="#111" stroke-width="0.2">0.4</text>
<text transform="translate(1722.80 1081.80) rotate(-90)" font-size="6.6" text-anchor="middle" fill="#111" stroke="#111" stroke-width="0.2">0.4</text>
<line x1="1811.28" y1="1161.00" x2="1811.28" y2="1163.80" stroke="#111" stroke-width="1.3"/>
<line x1="1728.40" y1="1046.60" x2="1731.20" y2="1046.60" stroke="#111" stroke-width="1.3"/>
<text transform="translate(1811.28 1171.00)" font-size="6.6" text-anchor="middle" fill="#111" stroke="#111" stroke-width="0.2">0.6</text>
<text transform="translate(1722.80 1046.60) rotate(-90)" font-size="6.6" text-anchor="middle" fill="#111" stroke="#111" stroke-width="0.2">0.6</text>
<line x1="1776.04" y1="1161.00" x2="1776.04" y2="1163.80" stroke="#111" stroke-width="1.3"/>
<line x1="1728.40" y1="1011.40" x2="1731.20" y2="1011.40" stroke="#111" stroke-width="1.3"/>
<text transform="translate(1776.04 1171.00)" font-size="6.6" text-anchor="middle" fill="#111" stroke="#111" stroke-width="0.2">0.8</text>
<text transform="translate(1722.80 1011.40) rotate(-90)" font-size="6.6" text-anchor="middle" fill="#111" stroke="#111" stroke-width="0.2">0.8</text>
<line x1="1740.80" y1="1161.00" x2="1740.80" y2="1163.80" stroke="#111" stroke-width="1.3"/>
<line x1="1728.40" y1="976.20" x2="1731.20" y2="976.20" stroke="#111" stroke-width="1.3"/>
<text transform="translate(1740.80 1171.00)" font-size="6.6" text-anchor="middle" fill="#111" stroke="#111" stroke-width="0.2">1.0</text>
<text transform="translate(1722.80 976.20) rotate(-90)" font-size="6.6" text-anchor="middle" fill="#111" stroke="#111" stroke-width="0.2">1.0</text>
<text transform="translate(1828.90 1181.00)" font-size="6.6" text-anchor="middle" fill="#111" stroke="#111" stroke-width="0.2">Specificity</text>
<text transform="translate(1711.30 1063.90) rotate(-90)" font-size="6.6" text-anchor="middle" fill="#111" stroke="#111" stroke-width="0.2">Sensitivity</text>
<text transform="translate(1821.50 965.70) scale(1.0000 1.0300)" font-size="16.95" text-anchor="middle" fill="#000" stroke="#000" stroke-width="0.1">Testing dataset:GSE128188</text>
<text transform="translate(1822.20 1083.10) scale(1.0000 1.0300)" font-size="16.8" text-anchor="start" fill="#ff0000">AUC: 0.890</text>
</g>
<g id="labels">
<text transform="translate(6.90 18.50) scale(0.9750 1.0300)" font-size="25.8" text-anchor="start" fill="#000" stroke="#000" stroke-width="0.1">A</text>
<text transform="translate(-2.35 440.10) scale(0.9750 1.0300)" font-size="25.8" text-anchor="start" fill="#000" stroke="#000" stroke-width="0.1">B</text>
<text transform="translate(682.40 18.45) scale(0.9750 1.0300)" font-size="25.8" text-anchor="start" fill="#000" stroke="#000" stroke-width="0.1">C</text>
<text transform="translate(1003.10 18.50) scale(0.9750 1.0300)" font-size="25.8" text-anchor="start" fill="#000" stroke="#000" stroke-width="0.1">D</text>
<text transform="translate(999.20 437.70) scale(0.9750 1.0300)" font-size="25.8" text-anchor="start" fill="#000" stroke="#000" stroke-width="0.1">E</text>
<text transform="translate(1674.90 18.50) scale(0.9750 1.0300)" font-size="25.8" text-anchor="start" fill="#000" stroke="#000" stroke-width="0.1">F</text>
</g>
</svg>
</body>
</html>
